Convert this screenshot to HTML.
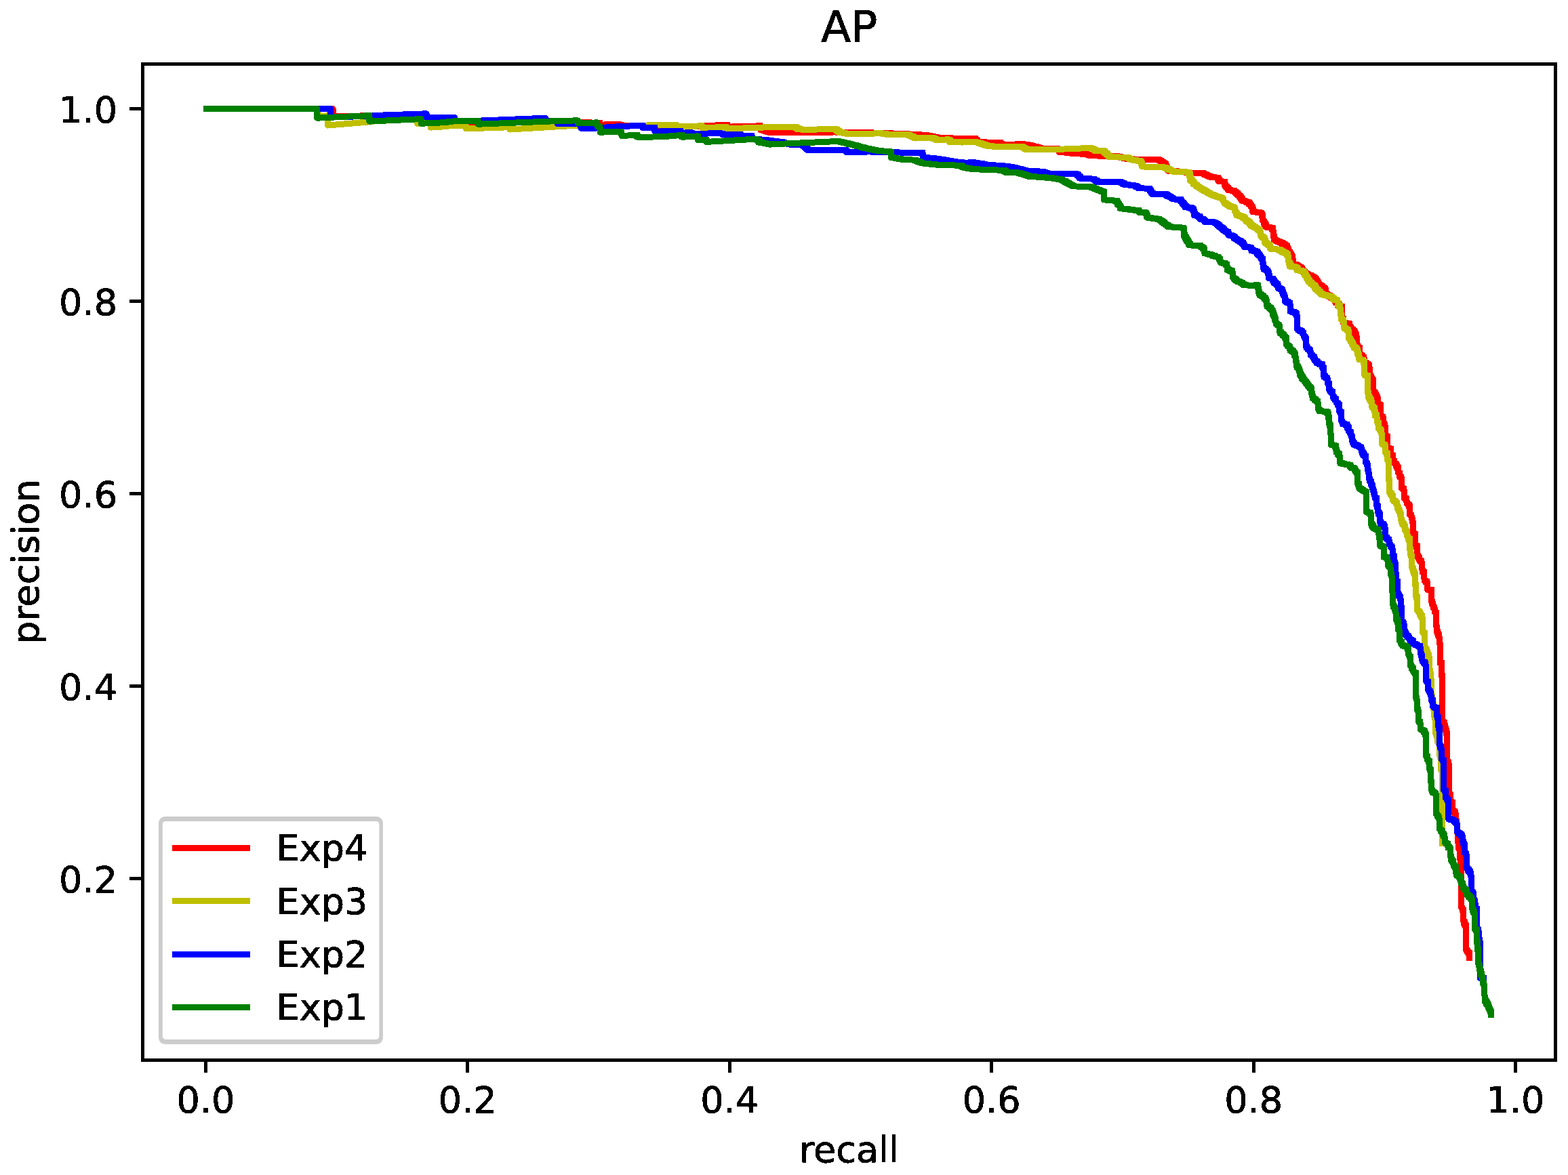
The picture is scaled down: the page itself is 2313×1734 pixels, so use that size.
<!DOCTYPE html>
<html lang="en"><head><meta charset="utf-8"><title>AP</title>
<style>html,body{margin:0;padding:0;background:#fff;}body{width:2313px;height:1734px;overflow:hidden;}svg{display:block;}text{font-family:"DejaVu Sans","Liberation Sans",sans-serif;fill:#000;}</style></head><body>
<svg xmlns="http://www.w3.org/2000/svg" width="2313" height="1734" viewBox="0 0 2313 1734">
<defs><filter id="bin" x="-5%" y="-5%" width="110%" height="110%" color-interpolation-filters="sRGB"><feComponentTransfer><feFuncA type="discrete" tableValues="0 1 1"/></feComponentTransfer></filter></defs>
<rect x="0" y="0" width="2313" height="1734" fill="#ffffff"/>
<g fill="none" stroke-width="9.0" stroke-linejoin="round" stroke-linecap="square" shape-rendering="crispEdges">
<path stroke="#ff0000" d="M304.4 160.4 L491.1 160.4 L491.1 172 L547.8 170.6 L628.1 168.2 L628.4 176 L630 176 L630 176.4 L633.1 176.4 L633.1 176.8 L636.3 176.8 L636.3 177.2 L639.4 177.2 L639.4 177.6 L642.6 177.6 L642.6 178 L645.7 178 L645.7 178.4 L648.9 178.4 L648.9 178.8 L652 178.8 L652 179.2 L655.2 179.2 L655.2 179.6 L658.3 179.6 L658.3 180 L659.9 180 L660 180.5 L661.6 180.5 L664.9 180.5 L664.9 180.6 L668.2 180.6 L671.5 180.6 L671.5 180.7 L674.8 180.7 L678.1 180.7 L678.1 180.8 L681.4 180.8 L684.7 180.8 L684.7 180.9 L688 180.9 L691.3 180.9 L691.3 181 L694.6 181 L696.2 181 L750.5 180 L822.8 178.7 L836.4 178.3 L837.9 178.3 L837.9 178.7 L841 178.7 L841 179.2 L844.1 179.2 L844.1 179.6 L847.2 179.6 L847.2 180.1 L850.3 180.1 L850.3 180.5 L851.8 180.5 L853.4 180.5 L853.4 180.6 L856.7 180.6 L859.9 180.6 L859.9 180.7 L863.2 180.7 L863.2 180.8 L866.4 180.8 L869.7 180.8 L869.7 180.9 L872.9 180.9 L872.9 181 L876.2 181 L876.2 181.1 L879.4 181.1 L882.7 181.1 L882.7 181.2 L884.3 181.2 L884.8 181.2 L884.8 184.7 L885.2 184.7 L893 183.8 L915.8 183.8 L916.3 183.8 L916.3 185.9 L916.9 185.9 L969 185.6 L983.7 185.6 L985.2 185.6 L985.2 185.8 L988.1 185.8 L988.1 186 L991 186 L991 186.1 L993.9 186.1 L993.9 186.3 L996.8 186.3 L996.8 186.5 L998.3 186.5 L1034.1 186.5 L1035.2 185.4 L1039.9 185.4 L1055.9 185.4 L1057 184.5 L1072.2 184.5 L1073 184.5 L1073 187.6 L1073.8 187.6 L1084.1 186.5 L1111.3 186.5 L1120 185.4 L1121.6 185.4 L1121.6 191.4 L1123.2 191.4 L1125 191.4 L1125 192.6 L1128.6 192.6 L1128.6 193.8 L1132.3 193.8 L1132.3 195 L1134.1 195 L1135.7 195 L1135.7 195.1 L1139 195.1 L1139 195.2 L1142.2 195.2 L1142.2 195.3 L1145.5 195.3 L1145.5 195.4 L1148.7 195.4 L1148.7 195.5 L1152 195.5 L1155.2 195.5 L1155.2 195.6 L1158.5 195.6 L1158.5 195.7 L1161.7 195.7 L1161.7 195.8 L1165 195.8 L1165 195.9 L1166.6 195.9 L1230 195 L1251.7 195.2 L1257.1 195.2 L1258.7 195.2 L1258.7 195.3 L1262 195.3 L1262 195.4 L1265.3 195.4 L1268.6 195.4 L1268.6 195.5 L1271.9 195.5 L1271.9 195.6 L1275.2 195.6 L1275.2 195.7 L1278.5 195.7 L1278.5 195.8 L1281.8 195.8 L1281.8 195.9 L1285.1 195.9 L1288.4 195.9 L1288.4 196 L1291.7 196 L1291.7 196.1 L1293.3 196.1 L1294.9 196.1 L1294.9 196.2 L1298.1 196.2 L1298.1 196.3 L1301.3 196.3 L1301.3 196.5 L1304.5 196.5 L1304.5 196.6 L1307.7 196.6 L1307.7 196.7 L1310.9 196.7 L1310.9 196.8 L1314.1 196.8 L1314.1 196.9 L1317.3 196.9 L1317.3 197 L1320.5 197 L1320.5 197.2 L1323.6 197.2 L1323.6 197.3 L1326.8 197.3 L1326.8 197.4 L1330 197.4 L1330 197.5 L1333.2 197.5 L1333.2 197.6 L1336.4 197.6 L1336.4 197.7 L1339.6 197.7 L1339.6 197.9 L1342.8 197.9 L1342.8 198 L1346 198 L1346 198.1 L1347.6 198.1 L1349.1 198.1 L1349.1 198.3 L1352.1 198.3 L1352.1 198.6 L1355.1 198.6 L1355.1 198.8 L1358.1 198.8 L1358.1 199 L1361.1 199 L1361.1 199.3 L1364.1 199.3 L1364.1 199.5 L1365.6 199.5 L1367.1 199.5 L1367.1 200.1 L1370.1 200.1 L1370.1 200.7 L1373.1 200.7 L1373.1 201.3 L1376.2 201.3 L1376.2 201.9 L1379.2 201.9 L1379.2 202.5 L1382.2 202.5 L1382.2 203.1 L1383.7 203.1 L1385.3 203.1 L1385.3 203.2 L1388.6 203.2 L1388.6 203.4 L1391.9 203.4 L1391.9 203.5 L1395.2 203.5 L1395.2 203.6 L1398.5 203.6 L1398.5 203.8 L1401.8 203.8 L1401.8 203.9 L1405.1 203.9 L1405.1 204.1 L1408.4 204.1 L1408.4 204.2 L1411.7 204.2 L1411.7 204.3 L1415 204.3 L1415 204.5 L1418.3 204.5 L1418.3 204.6 L1419.9 204.6 L1420 204.3 L1438.1 204.3 L1439.9 204.3 L1439.9 208.8 L1441.7 208.8 L1443.3 208.8 L1443.3 209.2 L1446.6 209.2 L1446.6 209.5 L1449.8 209.5 L1449.8 209.9 L1453.1 209.9 L1453.1 210.2 L1456.4 210.2 L1456.4 210.6 L1458 210.6 L1474.3 210.6 L1476.1 210.6 L1476.1 213.3 L1477.9 213.3 L1510.5 212.8 L1512 212.8 L1512 213.5 L1515 213.5 L1515 214.2 L1518 214.2 L1518 214.9 L1521 214.9 L1521 215.5 L1524 215.5 L1524 216.2 L1527 216.2 L1527 216.9 L1528.5 216.9 L1530.3 216.9 L1530.3 218.3 L1534 218.3 L1534 219.7 L1535.8 219.7 L1561.1 219.7 L1562 219.7 L1562 224.2 L1562.9 224.2 L1564.5 224.2 L1564.5 224.6 L1567.8 224.6 L1567.8 224.9 L1571.1 224.9 L1571.1 225.3 L1574.3 225.3 L1574.3 225.6 L1577.6 225.6 L1577.6 226 L1579.2 226 L1580.8 226 L1580.8 226.2 L1583.8 226.2 L1583.8 226.4 L1586.9 226.4 L1586.9 226.6 L1590 226.6 L1590 226.8 L1593.1 226.8 L1593.1 227 L1596.2 227 L1596.2 227.2 L1599.3 227.2 L1599.3 227.4 L1600.9 227.4 L1602.7 227.4 L1602.7 228.5 L1606.4 228.5 L1606.4 229.6 L1608.2 229.6 L1609.8 229.6 L1609.8 229.7 L1612.9 229.7 L1612.9 229.8 L1616.1 229.8 L1616.1 229.9 L1619.3 229.9 L1619.3 230.1 L1622.4 230.1 L1622.4 230.2 L1625.6 230.2 L1625.6 230.3 L1628.8 230.3 L1628.8 230.4 L1631.9 230.4 L1631.9 230.5 L1633.5 230.5 L1646.1 230.5 L1647.5 230.5 L1647.5 231.2 L1650.5 231.2 L1650.5 231.9 L1653.4 231.9 L1653.4 232.7 L1656.3 232.7 L1656.3 233.4 L1659.2 233.4 L1659.2 234.1 L1660.6 234.1 L1662.2 234.1 L1662.2 234.3 L1665.4 234.3 L1665.4 234.5 L1668.5 234.5 L1668.5 234.8 L1671.7 234.8 L1671.7 235 L1673.3 235 L1707.7 235 L1709.5 235 L1709.5 237.4 L1713.1 237.4 L1713.1 239.9 L1716.7 239.9 L1716.7 242.3 L1718.5 242.3 L1719.8 242.3 L1719.8 247.2 L1722.6 247.2 L1722.6 252.2 L1723.9 252.2 L1725.4 252.2 L1725.4 252.3 L1728.4 252.3 L1728.4 252.5 L1731.4 252.5 L1731.4 252.7 L1734.5 252.7 L1734.5 252.8 L1737.5 252.8 L1737.5 253 L1740.5 253 L1740.5 253.1 L1742 253.1 L1743.7 253.1 L1743.7 253.7 L1747.1 253.7 L1747.1 254.3 L1750.4 254.3 L1750.4 254.9 L1753.8 254.9 L1753.8 255.5 L1755.5 255.5 L1772.9 255.5 L1774.8 255.5 L1774.8 257.1 L1778.6 257.1 L1778.6 258.8 L1780.5 258.8 L1781.8 258.8 L1781.8 260.1 L1784.6 260.1 L1784.6 261.5 L1785.9 261.5 L1787.5 261.5 L1787.5 261.7 L1790.8 261.7 L1790.8 261.8 L1794.1 261.8 L1794.1 262 L1795.7 262 L1797.1 262 L1797.1 267.5 L1798.4 267.5 L1800.3 267.5 L1800.3 267.8 L1804.1 267.8 L1804.1 268 L1806 268 L1806.8 268 L1806.8 275.1 L1807.7 275.1 L1809 275.1 L1809 277.8 L1811.8 277.8 L1811.8 280.5 L1813.1 280.5 L1814.7 280.5 L1814.7 281.1 L1818 281.1 L1818 281.6 L1819.6 281.6 L1821.5 281.6 L1821.5 284.9 L1825.3 284.9 L1825.3 288.1 L1827.2 288.1 L1828.5 288.1 L1828.5 291.9 L1831.2 291.9 L1831.2 295.7 L1832.6 295.7 L1834 295.7 L1834 296.8 L1837 296.8 L1837 297.9 L1839.9 297.9 L1839.9 299 L1841.3 299 L1842.5 299 L1842.5 301.9 L1845 301.9 L1845 304.9 L1846.2 304.9 L1847.6 304.9 L1847.6 312.5 L1848.9 312.5 L1850.7 312.5 L1850.7 313 L1854.3 313 L1854.3 313.6 L1858 313.6 L1858 314.1 L1859.8 314.1 L1861.2 314.1 L1861.2 319.6 L1862.5 319.6 L1862.5 326.1 L1864.9 326.1 L1864.9 332.1 L1867.3 332.1 L1867.6 332.1 L1867.6 335.3 L1867.9 335.3 L1869.7 335.3 L1869.7 335.6 L1873.2 335.6 L1873.2 335.9 L1874.9 335.9 L1876.3 335.9 L1876.3 339.1 L1877.7 339.1 L1878 339.1 L1878 346.7 L1878.2 346.7 L1879.3 346.7 L1879.3 354.3 L1880.4 354.3 L1882 354.3 L1882 355.8 L1885.2 355.8 L1885.2 357.2 L1888.5 357.2 L1888.5 358.7 L1890.1 358.7 L1892 358.7 L1892 360.9 L1895.8 360.9 L1895.8 363 L1897.7 363 L1899.3 363 L1899.3 371.1 L1901 371.1 L1903.2 371.1 L1903.2 377.1 L1905.3 377.1 L1906.7 377.1 L1906.7 390.1 L1908.1 390.1 L1910 390.1 L1910 391.2 L1911.9 391.2 L1913.5 391.2 L1913.5 393.1 L1916.8 393.1 L1916.8 395 L1918.4 395 L1920 395 L1920 399.1 L1923.3 399.1 L1923.3 403.2 L1924.9 403.2 L1926.4 403.2 L1926.4 404.6 L1929.2 404.6 L1929.2 406.1 L1932.1 406.1 L1932.1 407.5 L1933.6 407.5 L1935.2 407.5 L1935.2 409.1 L1938.5 409.1 L1938.5 410.8 L1940.1 410.8 L1941.4 410.8 L1941.4 415.6 L1944.2 415.6 L1944.2 420.5 L1945.5 420.5 L1946.8 420.5 L1946.8 422.1 L1949.6 422.1 L1949.6 423.8 L1950.9 423.8 L1953.1 423.8 L1953.1 428.1 L1955.3 428.1 L1955.8 428.1 L1955.8 434.4 L1956.4 434.4 L1957.9 434.4 L1957.9 436.3 L1960.8 436.3 L1960.8 438.2 L1963.7 438.2 L1963.7 440.2 L1966.6 440.2 L1966.6 442.1 L1968 442.1 L1969.9 442.1 L1969.9 447 L1973.7 447 L1973.7 451.9 L1975.6 451.9 L1977.5 451.9 L1977.5 453.5 L1979.4 453.5 L1979.7 453.5 L1979.7 469.8 L1979.9 469.8 L1980.7 469.8 L1980.7 472 L1981.5 472 L1981.5 476.9 L1987 476.9 L1988.3 476.9 L1988.3 478.5 L1989.7 478.5 L1991.1 478.5 L1991.1 485 L1992.4 485 L1993.6 485 L1993.6 487.1 L1996.1 487.1 L1996.1 489.3 L1997.3 489.3 L1999.2 489.3 L1999.2 496.9 L2001.1 496.9 L2001.3 496.9 L2001.3 510 L2001.6 510 L2003.5 510 L2003.5 515.4 L2005.4 515.4 L2005.4 523 L2007 523 L2007 525.7 L2010.3 525.7 L2010.3 528.4 L2011.9 528.4 L2012.2 528.4 L2012.2 534.9 L2012.5 534.9 L2013.8 534.9 L2013.8 536.5 L2016.6 536.5 L2016.6 538.2 L2017.9 538.2 L2019 538.2 L2019 542.5 L2020.1 542.5 L2020.3 542.5 L2020.3 554.5 L2020.6 554.5 L2021.9 554.5 L2021.9 559.9 L2023.3 559.9 L2024.4 559.9 L2024.4 563.2 L2025.5 563.2 L2025.5 578.3 L2026.8 578.3 L2026.8 580.5 L2028.2 580.5 L2029.6 580.5 L2029.6 585.9 L2030.9 585.9 L2031.8 585.9 L2031.8 590.3 L2032.6 590.3 L2032.6 594.4 L2032.6 596.2 L2034.7 596.2 L2034.7 598.9 L2036.7 598.9 L2036.7 614.6 L2038.3 614.6 L2038.3 616.8 L2039.9 616.8 L2040.5 616.8 L2040.5 625.5 L2041 625.5 L2042.1 625.5 L2042.1 628.7 L2043.2 628.7 L2043.5 628.7 L2043.5 642.8 L2043.7 642.8 L2045.1 642.8 L2045.1 646.1 L2046.4 646.1 L2046.4 661.3 L2048.3 661.3 L2048.3 662.4 L2050.2 662.4 L2051.1 662.4 L2051.1 664.5 L2051.9 664.5 L2051.9 671.6 L2053.2 671.6 L2053.2 672.7 L2054.6 672.7 L2054.6 679.7 L2055.6 679.7 L2055.6 680.8 L2056.7 680.8 L2056.7 684.1 L2057.8 684.1 L2057.8 685.2 L2058.9 685.2 L2059.7 685.2 L2059.7 689 L2060.5 689 L2061.6 689 L2061.6 691.7 L2062.7 691.7 L2062.7 698.2 L2063.5 698.2 L2063.5 699.3 L2064.3 699.3 L2064.3 703.6 L2065.7 703.6 L2065.7 704.2 L2067 704.2 L2067.3 704.2 L2067.3 720.4 L2067.6 720.4 L2069.2 720.4 L2069.2 722.1 L2070.8 722.1 L2071.1 722.1 L2071.1 735.1 L2071.4 735.1 L2072.8 735.1 L2072.8 736.2 L2074.1 736.2 L2074.6 736.2 L2074.6 739.4 L2075.2 739.4 L2075.4 739.4 L2075.4 743.8 L2075.7 743.8 L2076.8 743.8 L2076.8 745.4 L2077.9 745.4 L2078.7 745.4 L2078.7 749.2 L2079.5 749.2 L2079.5 754.4 L2079.7 754.4 L2079.7 760 L2079.8 760 L2080.9 760 L2080.9 761 L2082 761 L2082.2 761 L2082.2 765.9 L2082.5 765.9 L2083.3 765.9 L2083.3 770.3 L2084.2 770.3 L2084.4 770.3 L2084.4 787.6 L2084.7 787.6 L2086.1 787.6 L2086.1 789.8 L2087.4 789.8 L2087.7 789.8 L2087.7 805.5 L2088 805.5 L2089.3 805.5 L2089.3 807.2 L2090.7 807.2 L2090.7 820.2 L2091.8 820.2 L2091.8 823.5 L2092.9 823.5 L2093.4 823.5 L2093.4 826.7 L2093.9 826.7 L2095.3 826.7 L2095.3 829.4 L2096.7 829.4 L2097.2 829.4 L2097.2 837.6 L2097.7 837.6 L2098 837.6 L2098 844.1 L2098.3 844.1 L2099.4 844.1 L2099.4 845.2 L2100.5 845.2 L2100.8 845.2 L2100.8 853.8 L2101 853.8 L2101.2 853.8 L2101.2 857.6 L2101.5 857.6 L2103.2 857.6 L2103.2 859.3 L2104.8 859.3 L2105.4 859.3 L2105.4 870.1 L2105.9 870.1 L2107.8 870.1 L2107.8 870.7 L2109.7 870.7 L2110.5 870.7 L2110.5 872.8 L2111.3 872.8 L2111.6 872.8 L2111.6 888.6 L2111.9 888.6 L2112.9 888.6 L2112.9 892.9 L2114 892.9 L2114.3 892.9 L2114.3 897.3 L2114.6 897.3 L2115.4 897.3 L2115.4 898.3 L2116.2 898.3 L2116.4 898.3 L2116.4 903.8 L2116.7 903.8 L2117.6 903.8 L2117.6 905.4 L2118.4 905.4 L2118.4 914.4 L2118.6 914.4 L2118.6 923.8 L2118.8 923.8 L2119.4 923.8 L2119.4 932.4 L2119.9 932.4 L2121.2 932.4 L2121.2 939 L2122.6 939 L2123.1 939 L2123.1 947.6 L2123.7 947.6 L2124 947.6 L2124 978 L2124.3 978 L2125.4 978 L2125.4 980.2 L2126.4 980.2 L2126.4 997.6 L2126.9 997.6 L2126.9 998.7 L2127.5 998.7 L2127.5 1064.9 L2129.2 1064.9 L2129.2 1067 L2130.8 1067 L2131.1 1067 L2131.1 1074.4 L2131.3 1074.4 L2131.6 1074.4 L2131.6 1075.1 L2131.8 1075.1 L2133.2 1075.1 L2133.2 1083.8 L2134.5 1083.8 L2134.5 1123.9 L2135.8 1123.9 L2135.8 1126.6 L2137.2 1126.6 L2137.2 1171.7 L2138.3 1171.7 L2138.3 1174.4 L2139.4 1174.4 L2139.4 1183.6 L2141 1183.6 L2141 1184.7 L2142.6 1184.7 L2142.6 1196.1 L2144.8 1196.1 L2144.8 1200.4 L2147 1200.4 L2147.2 1200.4 L2147.2 1211.8 L2147.5 1211.8 L2148.3 1211.8 L2148.3 1215.1 L2149.1 1215.1 L2149.1 1228.1 L2150 1228.1 L2150 1230.1 L2150.9 1230.1 L2150.9 1244.7 L2151.9 1244.7 L2151.9 1253.4 L2152.9 1253.4 L2153.2 1253.4 L2153.2 1264.3 L2153.4 1264.3 L2154.2 1264.3 L2154.2 1275.1 L2155.1 1275.1 L2155.3 1275.1 L2155.3 1296.8 L2155.6 1296.8 L2155.8 1318.5 L2155.8 1340.3 L2157.2 1340.3 L2157.2 1344.6 L2158.5 1344.6 L2158.7 1344.6 L2158.7 1359.8 L2158.9 1359.8 L2160.8 1359.8 L2160.8 1367.4 L2162.7 1367.4 L2162.7 1390 L2162.7 1391.7 L2162.6 1401.7 L2163.8 1401.7 L2163.8 1405 L2166.3 1405 L2166.3 1408.2 L2167.5 1408.2 L2167.5 1413.2"/>
<path stroke="#ff0000" stroke-width="8.4" stroke-linejoin="miter" stroke-linecap="butt" d="M628.4 176h1.57v0.2h1.57v0.2h1.57v0.2h1.57v0.2h1.57v0.2h1.57v0.2h1.57v0.2h1.57v0.2h1.57v0.2h1.57v0.2h1.57v0.2h1.57v0.2h1.57v0.2h1.57v0.2h1.57v0.2h1.57v0.2h1.57v0.2h1.57v0.2h1.57v0.2h1.57v0.2M836.4 178.3h1.54v0.22h1.54v0.22h1.54v0.22h1.54v0.22h1.54v0.22h1.54v0.22h1.54v0.22h1.54v0.22h1.54v0.22h1.54v0.22h1.62v0.03h1.62v0.03h1.62v0.03h1.62v0.03h1.62v0.03h1.62v0.03h1.62v0.03h1.62v0.03h1.62v0.03h1.62v0.03h1.62v0.03h1.62v0.03h1.62v0.03h1.62v0.03h1.62v0.03h1.62v0.03h1.62v0.03h1.62v0.03h1.62v0.03h1.62v0.03h0.45v1.75h0.45v1.75M915.8 183.8h1.1v2.1M983.7 185.6h1.62v0.1h1.62v0.1h1.62v0.1h1.62v0.1h1.62v0.1h1.62v0.1h1.62v0.1h1.62v0.1h1.62v0.1M1072.2 184.5h0.8v1.55h0.8v1.55M1120 185.4h0.8v1.5h0.8v1.5h0.8v1.5h0.8v1.5h1.56v0.51h1.56v0.51h1.56v0.51h1.56v0.51h1.56v0.51h1.56v0.51h1.56v0.51h1.62v0.05h1.62v0.05h1.62v0.05h1.62v0.05h1.62v0.05h1.62v0.05h1.62v0.05h1.62v0.05h1.62v0.05h1.62v0.05h1.62v0.05h1.62v0.05h1.62v0.05h1.62v0.05h1.62v0.05h1.62v0.05h1.62v0.05h1.62v0.05h1.62v0.05h1.62v0.05M1257.1 195.2h1.57v0.04h1.57v0.04h1.57v0.04h1.57v0.04h1.57v0.04h1.57v0.04h1.57v0.04h1.57v0.04h1.57v0.04h1.57v0.04h1.57v0.04h1.57v0.04h1.57v0.04h1.57v0.04h1.57v0.04h1.57v0.04h1.57v0.04h1.57v0.04h1.57v0.04h1.57v0.04h1.57v0.04h1.57v0.04h1.57v0.04h1.6v0.06h1.6v0.06h1.6v0.06h1.6v0.06h1.6v0.06h1.6v0.06h1.6v0.06h1.6v0.06h1.6v0.06h1.6v0.06h1.6v0.06h1.6v0.06h1.6v0.06h1.6v0.06h1.6v0.06h1.6v0.06h1.6v0.06h1.6v0.06h1.6v0.06h1.6v0.06h1.6v0.06h1.6v0.06h1.6v0.06h1.6v0.06h1.6v0.06h1.6v0.06h1.6v0.06h1.6v0.06h1.6v0.06h1.6v0.06h1.6v0.06h1.6v0.06h1.6v0.06h1.6v0.06h1.64v0.13h1.64v0.13h1.64v0.13h1.64v0.13h1.64v0.13h1.64v0.13h1.64v0.13h1.64v0.13h1.64v0.13h1.64v0.13h1.64v0.13h1.65v0.33h1.65v0.33h1.65v0.33h1.65v0.33h1.65v0.33h1.65v0.33h1.65v0.33h1.65v0.33h1.65v0.33h1.65v0.33h1.65v0.33h1.57v0.07h1.57v0.07h1.57v0.07h1.57v0.07h1.57v0.07h1.57v0.07h1.57v0.07h1.57v0.07h1.57v0.07h1.57v0.07h1.57v0.07h1.57v0.07h1.57v0.07h1.57v0.07h1.57v0.07h1.57v0.07h1.57v0.07h1.57v0.07h1.57v0.07h1.57v0.07h1.57v0.07h1.57v0.07h1.57v0.07M1438.1 204.3h1.2v1.5h1.2v1.5h1.2v1.5h1.63v0.18h1.63v0.18h1.63v0.18h1.63v0.18h1.63v0.18h1.63v0.18h1.63v0.18h1.63v0.18h1.63v0.18h1.63v0.18M1474.3 210.6h1.8v1.35h1.8v1.35M1510.5 212.8h1.64v0.37h1.64v0.37h1.64v0.37h1.64v0.37h1.64v0.37h1.64v0.37h1.64v0.37h1.64v0.37h1.64v0.37h1.64v0.37h1.64v0.37h1.46v0.56h1.46v0.56h1.46v0.56h1.46v0.56h1.46v0.56M1561.1 219.7h0.6v1.5h0.6v1.5h0.6v1.5h1.63v0.18h1.63v0.18h1.63v0.18h1.63v0.18h1.63v0.18h1.63v0.18h1.63v0.18h1.63v0.18h1.63v0.18h1.63v0.18h1.55v0.1h1.55v0.1h1.55v0.1h1.55v0.1h1.55v0.1h1.55v0.1h1.55v0.1h1.55v0.1h1.55v0.1h1.55v0.1h1.55v0.1h1.55v0.1h1.55v0.1h1.55v0.1h1.46v0.44h1.46v0.44h1.46v0.44h1.46v0.44h1.46v0.44h1.58v0.06h1.58v0.06h1.58v0.06h1.58v0.06h1.58v0.06h1.58v0.06h1.58v0.06h1.58v0.06h1.58v0.06h1.58v0.06h1.58v0.06h1.58v0.06h1.58v0.06h1.58v0.06h1.58v0.06h1.58v0.06M1646.1 230.5h1.61v0.4h1.61v0.4h1.61v0.4h1.61v0.4h1.61v0.4h1.61v0.4h1.61v0.4h1.61v0.4h1.61v0.4h1.59v0.11h1.59v0.11h1.59v0.11h1.59v0.11h1.59v0.11h1.59v0.11h1.59v0.11h1.59v0.11M1707.7 235h1.54v1.04h1.54v1.04h1.54v1.04h1.54v1.04h1.54v1.04h1.54v1.04h1.54v1.04h0.9v1.65h0.9v1.65h0.9v1.65h0.9v1.65h0.9v1.65h0.9v1.65h1.65v0.08h1.65v0.08h1.65v0.08h1.65v0.08h1.65v0.08h1.65v0.08h1.65v0.08h1.65v0.08h1.65v0.08h1.65v0.08h1.65v0.08h1.69v0.3h1.69v0.3h1.69v0.3h1.69v0.3h1.69v0.3h1.69v0.3h1.69v0.3h1.69v0.3M1772.9 255.5h1.52v0.66h1.52v0.66h1.52v0.66h1.52v0.66h1.52v0.66h1.8v0.9h1.8v0.9h1.8v0.9M1795.7 262h0.9v1.83h0.9v1.83h0.9v1.83M1806 268h0.43v1.78h0.43v1.78h0.43v1.78h0.43v1.78h1.8v1.8h1.8v1.8h1.8v1.8h1.62v0.28h1.62v0.28h1.62v0.28h1.62v0.28h1.52v1.3h1.52v1.3h1.52v1.3h1.52v1.3h1.52v1.3h1.08v1.52h1.08v1.52h1.08v1.52h1.08v1.52h1.08v1.52h1.74v0.66h1.74v0.66h1.74v0.66h1.74v0.66h1.74v0.66h1.23v1.47h1.23v1.47h1.23v1.47h1.23v1.47h0.54v1.52h0.54v1.52h0.54v1.52h0.54v1.52h0.54v1.52h1.56v0.23h1.56v0.23h1.56v0.23h1.56v0.23h1.56v0.23h1.56v0.23h1.56v0.23h0.9v1.83h0.9v1.83h0.9v1.83M1862.5 326.1h1.2v1.5h1.2v1.5h1.2v1.5h1.2v1.5h0.3v1.6h0.3v1.6M1874.9 335.9h1.4v1.6h1.4v1.6M1878.2 346.7h0.44v1.52h0.44v1.52h0.44v1.52h0.44v1.52h0.44v1.52h1.62v0.73h1.62v0.73h1.62v0.73h1.62v0.73h1.62v0.73h1.62v0.73h1.52v0.86h1.52v0.86h1.52v0.86h1.52v0.86h1.52v0.86h0.66v1.62h0.66v1.62h0.66v1.62h0.66v1.62h0.66v1.62h1.07v1.5h1.07v1.5h1.07v1.5h1.07v1.5h0.35v1.62h0.35v1.62h0.35v1.62h0.35v1.62h0.35v1.62h0.35v1.62h0.35v1.62h0.35v1.62h1.9v0.55h1.9v0.55h1.62v0.95h1.62v0.95h1.62v0.95h1.62v0.95h1.3v1.64h1.3v1.64h1.3v1.64h1.3v1.64h1.3v1.64h1.74v0.86h1.74v0.86h1.74v0.86h1.74v0.86h1.74v0.86h1.62v0.83h1.62v0.83h1.62v0.83h1.62v0.83h0.9v1.62h0.9v1.62h0.9v1.62h0.9v1.62h0.9v1.62h0.9v1.62h1.8v1.1h1.8v1.1h1.8v1.1h1.47v1.43h1.47v1.43h1.47v1.43h0.28v1.57h0.28v1.57h0.28v1.57h0.28v1.57h1.66v1.1h1.66v1.1h1.66v1.1h1.66v1.1h1.66v1.1h1.66v1.1h1.66v1.1h1.27v1.63h1.27v1.63h1.27v1.63h1.27v1.63h1.27v1.63h1.27v1.63h1.9v0.8h1.9v0.8M1979.9 469.8h1.6v2.2M1987 476.9h1.35v0.8h1.35v0.8h0.68v1.62h0.68v1.62h0.68v1.62h0.68v1.62h1.63v1.43h1.63v1.43h1.63v1.43h0.76v1.52h0.76v1.52h0.76v1.52h0.76v1.52h0.76v1.52M2001.6 510h1.27v1.8h1.27v1.8h1.27v1.8M2005.4 523h1.62v1.35h1.62v1.35h1.62v1.35h1.62v1.35M2012.5 534.9h1.8v1.1h1.8v1.1h1.8v1.1h0.73v1.43h0.73v1.43h0.73v1.43M2020.6 554.5h0.9v1.8h0.9v1.8h0.9v1.8h1.1v1.65h1.1v1.65M2025.5 578.3h1.35v1.1h1.35v1.1h0.9v1.8h0.9v1.8h0.9v1.8h0.57v1.47h0.57v1.47h0.57v1.47M2032.6 596.2h1.37v0.9h1.37v0.9h1.37v0.9M2036.7 614.6h1.6v1.1h1.6v1.1h0.22v1.74h0.22v1.74h0.22v1.74h0.22v1.74h0.22v1.74h1.1v1.6h1.1v1.6M2043.7 642.8h1.35v1.65h1.35v1.65M2046.4 661.3h1.9v0.55h1.9v0.55h1.7v2.1M2051.9 671.6h1.35v0.55h1.35v0.55M2054.6 679.7h2.1v1.1M2056.7 684.1h2.2v1.1h0.8v1.9h0.8v1.9h1.1v1.35h1.1v1.35M2062.7 698.2h1.6v1.1M2064.3 703.6h1.35v0.3h1.35v0.3M2067.6 720.4h1.6v0.85h1.6v0.85M2071.4 735.1h1.35v0.55h1.35v0.55h0.55v1.6h0.55v1.6M2075.7 743.8h2.2v1.6h0.8v1.9h0.8v1.9M2079.8 760h2.2v1M2082.5 765.9h0.57v1.47h0.57v1.47h0.57v1.47M2084.7 787.6h1.35v1.1h1.35v1.1M2088 805.5h1.35v0.85h1.35v0.85M2090.7 820.2h1.1v1.65h1.1v1.65h0.5v1.6h0.5v1.6h1.4v1.35h1.4v1.35h0.2v1.64h0.2v1.64h0.2v1.64h0.2v1.64h0.2v1.64h0.15v1.62h0.15v1.62h0.15v1.62h0.15v1.62h2.2v1.1M2101.5 857.6h1.65v0.85h1.65v0.85h0.16v1.54h0.16v1.54h0.16v1.54h0.16v1.54h0.16v1.54h0.16v1.54h0.16v1.54h1.9v0.3h1.9v0.3h1.6v2.1M2111.9 888.6h0.7v1.43h0.7v1.43h0.7v1.43M2114.6 897.3h1.6v1M2116.7 903.8h1.7v1.6M2118.8 923.8h0.22v1.72h0.22v1.72h0.22v1.72h0.22v1.72h0.22v1.72h0.67v1.65h0.67v1.65h0.67v1.65h0.67v1.65h0.22v1.72h0.22v1.72h0.22v1.72h0.22v1.72h0.22v1.72h0.03v1.6h0.03v1.6h0.03v1.6h0.03v1.6h0.03v1.6h0.03v1.6h0.03v1.6h0.03v1.6h0.03v1.6h0.03v1.6h0.03v1.6h0.03v1.6h0.03v1.6h0.03v1.6h0.03v1.6h0.03v1.6h0.03v1.6h0.03v1.6h0.03v1.6h2.1v2.2M2126.4 997.6h1.1v1.1M2127.5 1064.9h1.65v1.05h1.65v1.05M2131.8 1075.1h0.54v1.74h0.54v1.74h0.54v1.74h0.54v1.74h0.54v1.74M2134.5 1123.9h1.35v1.35h1.35v1.35M2137.2 1171.7h1.1v1.35h1.1v1.35M2139.4 1183.6h1.6v0.55h1.6v0.55M2142.6 1196.1h1.47v1.43h1.47v1.43h1.47v1.43M2147.5 1211.8h0.8v1.65h0.8v1.65M2149.1 1228.1h1.8v2M2150.9 1244.7h0.4v1.74h0.4v1.74h0.4v1.74h0.4v1.74h0.4v1.74M2153.4 1264.3h0.24v1.54h0.24v1.54h0.24v1.54h0.24v1.54h0.24v1.54h0.24v1.54h0.24v1.54M2155.8 1340.3h0.9v1.43h0.9v1.43h0.9v1.43M2158.9 1359.8h0.76v1.52h0.76v1.52h0.76v1.52h0.76v1.52h0.76v1.52M2162.6 1401.7h1.23v1.62h1.23v1.62h1.23v1.62h1.23v1.62"/>
<path stroke="#bfbf00" d="M304.4 160.4 L469.4 160.4 L469.4 171.5 L483.5 170.9 L483.5 185 L542.3 180.1 L555 178.7 L614.7 176 L615.6 176 L615.6 182.3 L616.5 182.3 L634.6 181.4 L635 181.4 L635 188.1 L635.5 188.1 L659.9 186.5 L660 185.9 L686.8 185.9 L687.1 185.9 L687.1 189.9 L687.5 189.9 L751.9 187.7 L752.2 187.7 L752.2 191 L752.6 191 L822.8 186.8 L851.8 185 L853.6 185 L853.6 185.2 L857.2 185.2 L857.2 185.4 L859 185.4 L860.7 185.4 L860.7 185.8 L864.1 185.8 L864.1 186.2 L867.5 186.2 L867.5 186.6 L870.9 186.6 L870.9 187 L874.2 187 L874.2 187.4 L877.6 187.4 L877.6 187.8 L881 187.8 L881 188.2 L884.4 188.2 L884.4 188.6 L886.1 188.6 L913.6 186.5 L948.4 185.4 L961.4 184.5 L996.1 184.3 L996.7 184.3 L996.7 186.5 L997.2 186.5 L1025.4 186.3 L1034.1 185.6 L1035.2 185.6 L1035.2 188.6 L1036.3 188.6 L1039.9 188.5 L1053.7 188.1 L1070 187.2 L1071.1 187.2 L1071.1 190.3 L1072.2 190.3 L1080.9 189.6 L1120 188.1 L1172.1 187.2 L1173.4 187.2 L1173.4 188.8 L1176.2 188.8 L1176.2 190.5 L1177.5 190.5 L1179 190.5 L1179 190.8 L1182 190.8 L1182 191.2 L1185 191.2 L1185 191.5 L1186.5 191.5 L1231.8 190.3 L1233.6 190.3 L1233.6 192.8 L1237.2 192.8 L1237.2 195.3 L1239 195.3 L1240.6 195.3 L1240.6 195.9 L1243.8 195.9 L1243.8 196.5 L1246.9 196.5 L1246.9 197.1 L1250.1 197.1 L1250.1 197.7 L1251.7 197.7 L1300.5 196.8 L1302.3 196.8 L1302.3 197.5 L1306 197.5 L1306 198.2 L1307.8 198.2 L1336.7 198.1 L1338.2 198.1 L1338.2 199.3 L1341.1 199.3 L1341.1 200.5 L1344 200.5 L1344 201.6 L1346.9 201.6 L1346.9 202.8 L1349.8 202.8 L1349.8 204 L1351.2 204 L1374.7 203.1 L1376.5 203.1 L1376.5 204.9 L1380.1 204.9 L1380.1 206.7 L1381.9 206.7 L1398.2 205.8 L1400 205.8 L1400 209.5 L1401.8 209.5 L1403.3 209.5 L1403.3 209.6 L1406.3 209.6 L1406.3 209.7 L1409.3 209.7 L1409.3 209.8 L1412.4 209.8 L1415.4 209.8 L1415.4 209.9 L1418.4 209.9 L1418.4 210 L1419.9 210 L1420 209.7 L1439.9 209.7 L1441.5 209.7 L1441.5 210.8 L1444.8 210.8 L1444.8 211.9 L1448.1 211.9 L1448.1 212.9 L1451.3 212.9 L1451.3 214 L1454.6 214 L1454.6 215.1 L1456.2 215.1 L1457.7 215.1 L1457.7 215.5 L1460.6 215.5 L1460.6 215.8 L1463.5 215.8 L1463.5 216.2 L1466.4 216.2 L1466.4 216.5 L1469.3 216.5 L1469.3 216.9 L1470.7 216.9 L1506.8 216 L1508.6 216 L1508.6 218.3 L1512.3 218.3 L1512.3 220.6 L1514.1 220.6 L1555.7 220.6 L1600.9 218.7 L1610 218.7 L1611.3 218.7 L1611.3 220.6 L1614.1 220.6 L1614.1 222.4 L1615.4 222.4 L1626.2 222.4 L1628 222.4 L1628 225.4 L1631.6 225.4 L1631.6 228.4 L1635.3 228.4 L1635.3 231.4 L1637.1 231.4 L1638.7 231.4 L1638.7 231.5 L1641.8 231.5 L1641.8 231.6 L1645 231.6 L1645 231.7 L1648.2 231.7 L1648.2 231.9 L1651.3 231.9 L1651.3 232 L1654.5 232 L1654.5 232.1 L1657.7 232.1 L1657.7 232.2 L1660.8 232.2 L1660.8 232.3 L1662.4 232.3 L1664.2 232.3 L1664.2 234.1 L1667.9 234.1 L1667.9 235.9 L1669.7 235.9 L1671.3 235.9 L1671.3 236.3 L1674.4 236.3 L1674.4 236.8 L1677.6 236.8 L1677.6 237.2 L1680.7 237.2 L1680.7 237.7 L1682.3 237.7 L1684.1 237.7 L1684.1 245.9 L1685.9 245.9 L1687.4 245.9 L1687.4 246 L1690.5 246 L1690.5 246.1 L1693.6 246.1 L1693.6 246.2 L1696.7 246.2 L1696.7 246.3 L1699.8 246.3 L1699.8 246.4 L1702.8 246.4 L1705.9 246.4 L1705.9 246.5 L1709 246.5 L1709 246.6 L1712.1 246.6 L1712.1 246.7 L1715.2 246.7 L1715.2 246.8 L1716.7 246.8 L1718.2 246.8 L1718.2 248.1 L1721.1 248.1 L1721.1 249.3 L1724 249.3 L1724 250.6 L1726.9 250.6 L1726.9 251.8 L1729.8 251.8 L1729.8 253.1 L1731.2 253.1 L1732.8 253.1 L1732.8 253.2 L1735.8 253.2 L1735.8 253.4 L1738.9 253.4 L1738.9 253.5 L1742 253.5 L1742 253.6 L1745.1 253.6 L1745.1 253.7 L1748.2 253.7 L1748.2 253.9 L1751.3 253.9 L1751.3 254 L1752.9 254 L1755.3 254 L1755.3 266.4 L1757.7 266.4 L1759.9 266.4 L1759.9 271.8 L1762.1 271.8 L1763.4 271.8 L1763.4 274 L1766.2 274 L1766.2 276.2 L1767.5 276.2 L1769.4 276.2 L1769.4 278.4 L1773.2 278.4 L1773.2 280.5 L1775.1 280.5 L1777 280.5 L1777 282.6 L1780.8 282.6 L1780.8 284.8 L1782.7 284.8 L1784 284.8 L1784 286.2 L1786.8 286.2 L1786.8 287.6 L1788.1 287.6 L1789.4 287.6 L1789.4 288.6 L1792.2 288.6 L1792.2 289.7 L1793.5 289.7 L1795.4 289.7 L1795.4 290.8 L1799.2 290.8 L1799.2 291.9 L1801.1 291.9 L1803 291.9 L1803 295.7 L1804.9 295.7 L1805.2 295.7 L1805.2 299 L1805.5 299 L1807.4 299 L1807.4 301.4 L1811.2 301.4 L1811.2 303.8 L1813.1 303.8 L1815 303.8 L1815 305.2 L1818.8 305.2 L1818.8 306.6 L1820.7 306.6 L1821.5 306.6 L1821.5 312 L1822.3 312 L1823.7 312 L1823.7 317.4 L1825 317.4 L1826.6 317.4 L1826.6 318.5 L1829.9 318.5 L1829.9 319.6 L1831.5 319.6 L1833.7 319.6 L1833.7 322.3 L1835.9 322.3 L1837 322.3 L1837 325.5 L1838 325.5 L1840.2 325.5 L1840.2 328.3 L1842.4 328.3 L1844 328.3 L1844 332.6 L1845.6 332.6 L1847.5 332.6 L1847.5 334.8 L1851.3 334.8 L1851.3 336.9 L1853.2 336.9 L1854.6 336.9 L1854.6 339.1 L1857.3 339.1 L1857.3 341.3 L1858.7 341.3 L1859.2 341.3 L1859.2 347.8 L1859.8 347.8 L1861.9 347.8 L1861.9 351.1 L1864.1 351.1 L1865.7 351.1 L1865.7 358.7 L1867.3 358.7 L1868.7 358.7 L1868.7 360.9 L1871.4 360.9 L1871.4 363 L1872.8 363 L1873.8 363 L1873.8 367.3 L1874.9 367.3 L1876.4 367.3 L1876.4 367.6 L1879.4 367.6 L1879.4 367.8 L1882.4 367.8 L1882.4 368.1 L1885.4 368.1 L1885.4 368.4 L1886.9 368.4 L1889.1 368.4 L1889.1 371.7 L1891.2 371.7 L1892.6 371.7 L1892.6 372.8 L1895.3 372.8 L1895.3 373.8 L1896.7 373.8 L1898.3 373.8 L1898.3 377.1 L1899.9 377.1 L1900.2 377.1 L1900.2 385.8 L1900.5 385.8 L1902.4 385.8 L1902.4 393.4 L1904.3 393.4 L1905.9 393.4 L1905.9 393.6 L1909.2 393.6 L1909.2 393.9 L1910.8 393.9 L1912.9 393.9 L1912.9 398.8 L1915.1 398.8 L1917 398.8 L1917 399.9 L1920.8 399.9 L1920.8 401 L1922.7 401 L1924.3 401 L1924.3 406.4 L1926 406.4 L1927.3 406.4 L1927.3 411.3 L1930.1 411.3 L1930.1 416.2 L1931.4 416.2 L1933 416.2 L1933 418.9 L1936.3 418.9 L1936.3 421.6 L1937.9 421.6 L1940.1 421.6 L1940.1 427 L1942.2 427 L1944.1 427 L1944.1 430.7 L1947.9 430.7 L1947.9 434.4 L1949.8 434.4 L1951.7 434.4 L1951.7 435.3 L1955.3 435.3 L1955.3 436.3 L1959.1 436.3 L1959.1 437.2 L1960.9 437.2 L1962.2 437.2 L1962.2 437.8 L1963.6 437.8 L1965.5 437.8 L1965.5 442.1 L1967.4 442.1 L1968.8 442.1 L1968.8 443 L1971.5 443 L1971.5 443.8 L1972.9 443.8 L1973.2 443.8 L1973.2 450.3 L1973.4 450.3 L1975.1 450.3 L1975.1 453 L1976.7 453 L1977 453 L1977 461.1 L1977.2 461.1 L1978 461.1 L1978 470.9 L1978.8 470.9 L1980.2 470.9 L1980.2 473.1 L1981.5 473.1 L1982.3 473.1 L1982.3 483.9 L1983.2 483.9 L1984.7 483.9 L1984.7 486.1 L1987.6 486.1 L1987.6 488.3 L1989.1 488.3 L1989.4 488.3 L1989.4 499.1 L1989.7 499.1 L1990.8 499.1 L1990.8 502.4 L1991.9 502.4 L1994.1 502.4 L1994.1 508.9 L1996.2 508.9 L1996.8 508.9 L1996.8 512.7 L1997.3 512.7 L1998.9 512.7 L1998.9 514.3 L2000.5 514.3 L2002.2 514.3 L2002.2 523 L2003.8 523 L2004.6 523 L2004.6 530.6 L2005.4 530.6 L2007.6 530.6 L2007.6 531.1 L2009.8 531.1 L2011.2 531.1 L2011.2 536 L2012.5 536 L2012.5 553.4 L2013.7 553.4 L2013.7 554.2 L2016.2 554.2 L2016.2 555 L2017.4 555 L2017.7 555 L2017.7 580.5 L2017.9 580.5 L2018.7 580.5 L2018.7 587 L2019.5 587 L2021.2 587 L2021.2 592.5 L2022.8 592.5 L2023 592.5 L2023 594.4 L2023.3 594.4 L2023.8 594.4 L2023.8 600.5 L2024.2 600.5 L2025.8 600.5 L2025.8 603.8 L2027.4 603.8 L2028 603.8 L2028 612.4 L2028.5 612.4 L2029.6 612.4 L2029.6 614.6 L2030.7 614.6 L2031 614.6 L2031 622.2 L2031.2 622.2 L2032.3 622.2 L2032.3 625.5 L2033.4 625.5 L2033.7 625.5 L2033.7 633.1 L2033.9 633.1 L2035.3 633.1 L2035.3 635.2 L2036.7 635.2 L2037.5 635.2 L2037.5 639.6 L2038.3 639.6 L2038.5 639.6 L2038.5 655.3 L2038.8 655.3 L2041 655.3 L2041 656.9 L2043.2 656.9 L2043.5 656.9 L2043.5 667.8 L2043.7 667.8 L2045.1 667.8 L2045.1 671.1 L2046.4 671.1 L2046.7 671.1 L2046.7 679.7 L2047 679.7 L2047.8 679.7 L2047.8 680.8 L2048.6 680.8 L2048.6 709 L2049.1 709 L2049.1 709.6 L2049.7 709.6 L2049.7 727.5 L2051.1 727.5 L2051.1 729.7 L2052.4 729.7 L2053.5 729.7 L2053.5 734 L2054.6 734 L2054.6 738.3 L2056.2 738.3 L2056.2 740 L2057.8 740 L2059.2 740 L2059.2 743.8 L2060.5 743.8 L2061.1 743.8 L2061.1 749.2 L2061.6 749.2 L2062.4 749.2 L2062.4 752.5 L2063.2 752.5 L2063.5 752.5 L2063.5 754.4 L2063.8 754.4 L2064.2 754.4 L2064.2 755.1 L2064.6 755.1 L2065.4 755.1 L2065.4 760.5 L2066.3 760.5 L2066.6 760.5 L2066.6 767 L2066.8 767 L2068.2 767 L2068.2 773.5 L2069.5 773.5 L2070.8 773.5 L2070.8 776.8 L2072.2 776.8 L2072.5 776.8 L2072.5 782.2 L2072.8 782.2 L2074.2 782.2 L2074.2 785.5 L2075.5 785.5 L2075.8 785.5 L2075.8 792 L2076 792 L2077.7 792 L2077.7 797.4 L2079.3 797.4 L2079.9 797.4 L2079.9 812.6 L2080.4 812.6 L2080.9 812.6 L2080.9 820.2 L2081.5 820.2 L2082 820.2 L2082 822.9 L2082.5 822.9 L2082.3 836.5 L2083.2 836.5 L2083.2 839.7 L2084.2 839.7 L2084.8 839.7 L2084.8 845.2 L2085.3 845.2 L2086.4 845.2 L2086.4 848.4 L2087.4 848.4 L2087.4 863.6 L2087.9 863.6 L2087.9 864.7 L2088.5 864.7 L2088.5 879.9 L2089.6 879.9 L2089.6 883.2 L2090.7 883.2 L2090.7 901.1 L2092.1 901.1 L2092.1 902.7 L2093.4 902.7 L2094.5 902.7 L2094.5 908.1 L2095.6 908.1 L2096.9 908.1 L2096.9 912.5 L2098.3 912.5 L2098.6 912.5 L2098.6 914.4 L2098.8 914.4 L2098.8 933.5 L2100.2 933.5 L2100.2 934.6 L2101.5 934.6 L2101.5 956.3 L2102.8 956.3 L2102.8 959.6 L2104.2 959.6 L2104.8 959.6 L2104.8 963.9 L2105.3 963.9 L2106.7 963.9 L2106.7 969.3 L2108 969.3 L2108.2 969.3 L2108.2 990 L2108.5 990 L2109.3 990 L2109.3 993.2 L2110.1 993.2 L2110.4 993.2 L2110.4 1005.2 L2110.7 1005.2 L2111.2 1005.2 L2111.2 1006.2 L2111.8 1006.2 L2111.8 1024.7 L2112.6 1024.7 L2112.6 1035.6 L2113.4 1035.6 L2114.2 1035.6 L2114.2 1046.4 L2115 1046.4 L2115.6 1046.4 L2115.6 1057.3 L2116.1 1057.3 L2116.5 1057.3 L2116.5 1060.9 L2116.9 1060.9 L2117.7 1060.9 L2117.7 1082.6 L2118.5 1082.6 L2120.6 1082.6 L2120.6 1095.6 L2122.7 1095.6 L2123.6 1095.6 L2123.6 1115.1 L2124.5 1115.1 L2125.8 1115.1 L2125.8 1136.8 L2127.2 1136.8 L2127.3 1136.8 L2127.3 1164 L2127.5 1164 L2127.5 1230 L2127.5 1231.7 L2127.5 1244.1"/>
<path stroke="#bfbf00" stroke-width="8.4" stroke-linejoin="miter" stroke-linecap="butt" d="M614.7 176h0.45v1.58h0.45v1.58h0.45v1.58h0.45v1.58M634.6 181.4h0.22v1.67h0.22v1.67h0.22v1.67h0.22v1.67M686.8 185.9h0.35v2h0.35v2M751.9 187.7h0.35v1.65h0.35v1.65M859 185.4h1.59v0.19h1.59v0.19h1.59v0.19h1.59v0.19h1.59v0.19h1.59v0.19h1.59v0.19h1.59v0.19h1.59v0.19h1.59v0.19h1.59v0.19h1.59v0.19h1.59v0.19h1.59v0.19h1.59v0.19h1.59v0.19h1.59v0.19M996.1 184.3h1.1v2.2M1034.1 185.6h1.1v1.5h1.1v1.5M1070 187.2h1.1v1.55h1.1v1.55M1172.1 187.2h1.8v1.1h1.8v1.1h1.8v1.1h1.5v0.17h1.5v0.17h1.5v0.17h1.5v0.17h1.5v0.17h1.5v0.17M1231.8 190.3h1.44v1h1.44v1h1.44v1h1.44v1h1.44v1h1.59v0.3h1.59v0.3h1.59v0.3h1.59v0.3h1.59v0.3h1.59v0.3h1.59v0.3h1.59v0.3M1300.5 196.8h1.46v0.28h1.46v0.28h1.46v0.28h1.46v0.28h1.46v0.28M1336.7 198.1h1.61v0.66h1.61v0.66h1.61v0.66h1.61v0.66h1.61v0.66h1.61v0.66h1.61v0.66h1.61v0.66h1.61v0.66M1374.7 203.1h1.44v0.72h1.44v0.72h1.44v0.72h1.44v0.72h1.44v0.72M1398.2 205.8h1.8v1.85h1.8v1.85M1439.9 209.7h1.63v0.54h1.63v0.54h1.63v0.54h1.63v0.54h1.63v0.54h1.63v0.54h1.63v0.54h1.63v0.54h1.63v0.54h1.63v0.54h1.61v0.2h1.61v0.2h1.61v0.2h1.61v0.2h1.61v0.2h1.61v0.2h1.61v0.2h1.61v0.2h1.61v0.2M1506.8 216h1.46v0.92h1.46v0.92h1.46v0.92h1.46v0.92h1.46v0.92M1610 218.7h1.8v1.23h1.8v1.23h1.8v1.23M1626.2 222.4h1.56v1.29h1.56v1.29h1.56v1.29h1.56v1.29h1.56v1.29h1.56v1.29h1.56v1.29h1.58v0.06h1.58v0.06h1.58v0.06h1.58v0.06h1.58v0.06h1.58v0.06h1.58v0.06h1.58v0.06h1.58v0.06h1.58v0.06h1.58v0.06h1.58v0.06h1.58v0.06h1.58v0.06h1.58v0.06h1.58v0.06h1.46v0.72h1.46v0.72h1.46v0.72h1.46v0.72h1.46v0.72h1.57v0.22h1.57v0.22h1.57v0.22h1.57v0.22h1.57v0.22h1.57v0.22h1.57v0.22h1.57v0.22h0.72v1.64h0.72v1.64h0.72v1.64h0.72v1.64h0.72v1.64h1.62v0.05h1.62v0.05h1.62v0.05h1.62v0.05h1.62v0.05h1.62v0.05h1.62v0.05h1.62v0.05h1.62v0.05h1.62v0.05h1.62v0.05h1.62v0.05h1.62v0.05h1.62v0.05h1.62v0.05h1.62v0.05h1.62v0.05h1.62v0.05h1.62v0.05h1.61v0.7h1.61v0.7h1.61v0.7h1.61v0.7h1.61v0.7h1.61v0.7h1.61v0.7h1.61v0.7h1.61v0.7h1.55v0.06h1.55v0.06h1.55v0.06h1.55v0.06h1.55v0.06h1.55v0.06h1.55v0.06h1.55v0.06h1.55v0.06h1.55v0.06h1.55v0.06h1.55v0.06h1.55v0.06h1.55v0.06h0.6v1.55h0.6v1.55h0.6v1.55h0.6v1.55h0.6v1.55h0.6v1.55h0.6v1.55h0.6v1.55h1.47v1.8h1.47v1.8h1.47v1.8h1.8v1.47h1.8v1.47h1.8v1.47h1.52v0.86h1.52v0.86h1.52v0.86h1.52v0.86h1.52v0.86h1.52v0.86h1.52v0.86h1.52v0.86h1.52v0.86h1.52v0.86h1.8v0.93h1.8v0.93h1.8v0.93h1.8v0.7h1.8v0.7h1.8v0.7h1.52v0.44h1.52v0.44h1.52v0.44h1.52v0.44h1.52v0.44h1.9v1.9h1.9v1.9M1805.5 299h1.52v0.96h1.52v0.96h1.52v0.96h1.52v0.96h1.52v0.96h1.52v0.56h1.52v0.56h1.52v0.56h1.52v0.56h1.52v0.56h0.53v1.8h0.53v1.8h0.53v1.8h0.9v1.8h0.9v1.8h0.9v1.8h1.62v0.55h1.62v0.55h1.62v0.55h1.62v0.55h1.47v0.9h1.47v0.9h1.47v0.9h1.05v1.6h1.05v1.6h1.47v0.93h1.47v0.93h1.47v0.93h1.07v1.43h1.07v1.43h1.07v1.43h1.52v0.86h1.52v0.86h1.52v0.86h1.52v0.86h1.52v0.86h1.83v1.47h1.83v1.47h1.83v1.47h0.27v1.62h0.27v1.62h0.27v1.62h0.27v1.62h1.43v1.1h1.43v1.1h1.43v1.1h0.64v1.52h0.64v1.52h0.64v1.52h0.64v1.52h0.64v1.52h1.83v1.43h1.83v1.43h1.83v1.43h0.7v1.43h0.7v1.43h0.7v1.43h1.5v0.14h1.5v0.14h1.5v0.14h1.5v0.14h1.5v0.14h1.5v0.14h1.5v0.14h1.5v0.14h1.43v1.1h1.43v1.1h1.43v1.1h1.83v0.7h1.83v0.7h1.83v0.7h1.6v1.65h1.6v1.65M1900.5 385.8h0.76v1.52h0.76v1.52h0.76v1.52h0.76v1.52h0.76v1.52M1910.8 393.9h1.43v1.63h1.43v1.63h1.43v1.63h1.52v0.44h1.52v0.44h1.52v0.44h1.52v0.44h1.52v0.44h1.1v1.8h1.1v1.8h1.1v1.8h0.9v1.63h0.9v1.63h0.9v1.63h0.9v1.63h0.9v1.63h0.9v1.63h1.62v1.35h1.62v1.35h1.62v1.35h1.62v1.35h1.43v1.8h1.43v1.8h1.43v1.8h1.52v1.48h1.52v1.48h1.52v1.48h1.52v1.48h1.52v1.48h1.59v0.4h1.59v0.4h1.59v0.4h1.59v0.4h1.59v0.4h1.59v0.4h1.59v0.4h1.35v0.3h1.35v0.3h1.27v1.43h1.27v1.43h1.27v1.43h1.83v0.57h1.83v0.57h1.83v0.57M1973.4 450.3h1.65v1.35h1.65v1.35M1977.2 461.1h0.27v1.63h0.27v1.63h0.27v1.63h0.27v1.63h0.27v1.63h0.27v1.63h1.35v1.1h1.35v1.1h0.24v1.54h0.24v1.54h0.24v1.54h0.24v1.54h0.24v1.54h0.24v1.54h0.24v1.54h1.47v1.1h1.47v1.1h1.47v1.1h1.47v1.1h0.09v1.54h0.09v1.54h0.09v1.54h0.09v1.54h0.09v1.54h0.09v1.54h0.09v1.54h1.1v1.65h1.1v1.65h1.07v1.62h1.07v1.62h1.07v1.62h1.07v1.62h0.55v1.9h0.55v1.9h1.6v0.8h1.6v0.8h0.66v1.74h0.66v1.74h0.66v1.74h0.66v1.74h0.66v1.74h0.32v1.52h0.32v1.52h0.32v1.52h0.32v1.52h0.32v1.52M2009.8 531.1h0.9v1.63h0.9v1.63h0.9v1.63M2012.5 553.4h1.63v0.53h1.63v0.53h1.63v0.53M2017.9 580.5h0.4v1.62h0.4v1.62h0.4v1.62h0.4v1.62h1.1v1.83h1.1v1.83h1.1v1.83M2023.3 594.4h0.23v1.53h0.23v1.53h0.23v1.53h0.23v1.53h1.6v1.65h1.6v1.65h0.22v1.72h0.22v1.72h0.22v1.72h0.22v1.72h0.22v1.72h2.2v2.2M2031.2 622.2h1.1v1.65h1.1v1.65M2033.9 633.1h1.4v1.05h1.4v1.05h0.53v1.47h0.53v1.47h0.53v1.47M2038.8 655.3h1.47v0.53h1.47v0.53h1.47v0.53M2043.7 667.8h1.35v1.65h1.35v1.65M2047 679.7h1.6v1.1M2048.6 709h1.1v0.6M2049.7 727.5h1.35v1.1h1.35v1.1h0.73v1.43h0.73v1.43h0.73v1.43M2054.6 738.3h1.6v0.85h1.6v0.85h1.35v1.9h1.35v1.9h0.37v1.8h0.37v1.8h0.37v1.8h0.8v1.65h0.8v1.65h0.6v1.9h0.8v0.7h0.57v1.8h0.57v1.8h0.57v1.8M2066.8 767h0.67v1.62h0.67v1.62h0.67v1.62h0.67v1.62h1.35v1.65h1.35v1.65h0.2v1.8h0.2v1.8h0.2v1.8h1.35v1.65h1.35v1.65M2076 792h1.1v1.8h1.1v1.8h1.1v1.8h0.11v1.52h0.11v1.52h0.11v1.52h0.11v1.52h0.11v1.52h0.11v1.52h0.11v1.52h0.11v1.52h0.11v1.52h0.11v1.52h0.22v1.52h0.22v1.52h0.22v1.52h0.22v1.52h0.22v1.52h0.5v1.35h0.5v1.35M2082.3 836.5h0.95v1.6h0.95v1.6h0.37v1.83h0.37v1.83h0.37v1.83h1.05v1.6h1.05v1.6M2087.4 863.6h1.1v1.1M2088.5 879.9h1.1v1.65h1.1v1.65M2090.7 901.1h1.35v0.8h1.35v0.8h0.73v1.8h0.73v1.8h0.73v1.8h0.9v1.47h0.9v1.47h0.9v1.47M2098.8 933.5h1.35v0.55h1.35v0.55M2101.5 956.3h1.35v1.65h1.35v1.65h0.37v1.43h0.37v1.43h0.37v1.43h0.9v1.8h0.9v1.8h0.9v1.8M2108.5 990h0.8v1.6h0.8v1.6M2110.7 1005.2h1.1v1M2111.8 1024.7h0.23v1.56h0.23v1.56h0.23v1.56h0.23v1.56h0.23v1.56h0.23v1.56h0.23v1.56h0.23v1.54h0.23v1.54h0.23v1.54h0.23v1.54h0.23v1.54h0.23v1.54h0.23v1.54h0.16v1.56h0.16v1.56h0.16v1.56h0.16v1.56h0.16v1.56h0.16v1.56h0.16v1.56h0.4v1.8h0.4v1.8h0.11v1.55h0.11v1.55h0.11v1.55h0.11v1.55h0.11v1.55h0.11v1.55h0.11v1.55h0.11v1.55h0.11v1.55h0.11v1.55h0.11v1.55h0.11v1.55h0.11v1.55h0.11v1.55h0.52v1.62h0.52v1.62h0.52v1.62h0.52v1.62h0.52v1.62h0.52v1.62h0.52v1.62h0.52v1.62h0.15v1.62h0.15v1.62h0.15v1.62h0.15v1.62h0.15v1.62h0.15v1.62h0.15v1.62h0.15v1.62h0.15v1.62h0.15v1.62h0.15v1.62h0.15v1.62h0.19v1.55h0.19v1.55h0.19v1.55h0.19v1.55h0.19v1.55h0.19v1.55h0.19v1.55h0.19v1.55h0.19v1.55h0.19v1.55h0.19v1.55h0.19v1.55h0.19v1.55h0.19v1.55"/>
<path stroke="#0000ff" d="M304.4 160.4 L487.5 160.4 L487.5 173.1 L511.6 172.5 L547.8 170.6 L629.2 167.8 L629.2 173.6 L659.9 173.6 L660 173.6 L670.9 173.6 L670.9 178.7 L705.2 178.2 L804.7 174.2 L804.9 178.5 L821.6 178.5 L821.9 182.3 L846.3 182.3 L848 182.3 L848 182.6 L851.3 182.6 L851.3 182.9 L854.6 182.9 L854.6 183.2 L856.3 183.2 L856.8 183.2 L856.8 189.2 L857.2 189.2 L877.1 189.2 L886.1 188.6 L913.6 186.5 L947.3 185.4 L947.8 185.4 L947.8 188.6 L948.4 188.6 L964.7 188.6 L965.8 188.6 L965.8 194.1 L966.8 194.1 L1003.7 193.5 L1004.2 193.5 L1004.2 196.2 L1004.8 196.2 L1020 195.7 L1020.5 195.7 L1020.5 197.9 L1021.1 197.9 L1039.9 197.2 L1049.4 196.8 L1064.6 196.8 L1065.4 196.8 L1065.4 199 L1066.2 199 L1093.9 198.4 L1094.1 198.4 L1094.1 200 L1094.3 200 L1096 200 L1096 200.2 L1099.4 200.2 L1099.4 200.3 L1102.9 200.3 L1102.9 200.5 L1106.3 200.5 L1106.3 200.6 L1108 200.6 L1108.8 200.6 L1108.8 204.9 L1109.7 204.9 L1111.4 204.9 L1111.4 205.2 L1114.9 205.2 L1114.9 205.5 L1118.4 205.5 L1118.4 205.8 L1121.8 205.8 L1121.8 206.1 L1125.3 206.1 L1125.3 206.4 L1128.8 206.4 L1128.8 206.7 L1130.5 206.7 L1132 206.7 L1132 207.1 L1135.1 207.1 L1135.1 207.5 L1138.2 207.5 L1138.2 207.9 L1141.3 207.9 L1141.3 208.3 L1144.4 208.3 L1144.4 208.7 L1147.5 208.7 L1147.5 209.1 L1150.6 209.1 L1150.6 209.5 L1152.2 209.5 L1154 209.5 L1154 210.4 L1157.6 210.4 L1157.6 211.3 L1161.2 211.3 L1161.2 212.2 L1164.8 212.2 L1164.8 213.1 L1166.6 213.1 L1168.1 213.1 L1168.1 213.3 L1171.1 213.3 L1171.1 213.5 L1174.1 213.5 L1174.1 213.7 L1177.2 213.7 L1177.2 213.9 L1180.2 213.9 L1180.2 214.1 L1183.2 214.1 L1183.2 214.3 L1184.7 214.3 L1186.5 214.3 L1186.5 217.8 L1190.2 217.8 L1190.2 221.2 L1192 221.2 L1193.6 221.2 L1196.8 221.2 L1200 221.2 L1200 221.3 L1203.2 221.3 L1206.3 221.3 L1209.5 221.3 L1212.7 221.3 L1212.7 221.4 L1215.9 221.4 L1219.1 221.4 L1222.3 221.4 L1225.5 221.4 L1225.5 221.5 L1228.7 221.5 L1231.9 221.5 L1235 221.5 L1238.2 221.5 L1238.2 221.6 L1241.4 221.6 L1244.6 221.6 L1246.2 221.6 L1248.1 221.6 L1248.1 224.8 L1249.9 224.8 L1282.4 223.9 L1284 223.9 L1284 224.1 L1287.3 224.1 L1287.3 224.3 L1290.6 224.3 L1290.6 224.4 L1293.8 224.4 L1293.8 224.6 L1297.1 224.6 L1297.1 224.8 L1298.7 224.8 L1318.6 224.8 L1320.2 224.8 L1320.2 224.9 L1323.4 224.9 L1326.6 224.9 L1326.6 225 L1329.8 225 L1329.8 225.1 L1333 225.1 L1336.2 225.1 L1336.2 225.2 L1339.4 225.2 L1339.4 225.3 L1342.6 225.3 L1342.6 225.4 L1345.8 225.4 L1349 225.4 L1349 225.5 L1352.2 225.5 L1352.2 225.6 L1355.4 225.6 L1358.6 225.6 L1358.6 225.7 L1360.2 225.7 L1361.1 225.7 L1361.1 232.1 L1362 232.1 L1363.5 232.1 L1363.5 232.5 L1366.6 232.5 L1366.6 232.9 L1369.7 232.9 L1369.7 233.3 L1372.8 233.3 L1372.8 233.6 L1375.9 233.6 L1375.9 234 L1379 234 L1379 234.4 L1382.1 234.4 L1382.1 234.8 L1383.7 234.8 L1385.2 234.8 L1385.2 235.3 L1388.2 235.3 L1388.2 235.8 L1391.3 235.8 L1391.3 236.3 L1394.3 236.3 L1394.3 236.8 L1397.3 236.8 L1397.3 237.3 L1400.3 237.3 L1400.3 237.8 L1403.3 237.8 L1403.3 238.3 L1406.4 238.3 L1406.4 238.8 L1409.4 238.8 L1409.4 239.3 L1410.9 239.3 L1419.9 239.3 L1420 240.5 L1434.5 239.6 L1436 239.6 L1436 240.1 L1439.1 240.1 L1439.1 240.6 L1442.2 240.6 L1442.2 241.1 L1445.3 241.1 L1445.3 241.7 L1448.4 241.7 L1448.4 242.2 L1451.5 242.2 L1451.5 242.7 L1454.6 242.7 L1454.6 243.2 L1456.2 243.2 L1457.9 243.2 L1457.9 243.4 L1461.3 243.4 L1461.3 243.6 L1464.7 243.6 L1464.7 243.9 L1468.1 243.9 L1468.1 244.1 L1471.4 244.1 L1471.4 244.3 L1474.8 244.3 L1474.8 244.5 L1478.2 244.5 L1478.2 244.8 L1481.6 244.8 L1481.6 245 L1483.3 245 L1484.8 245 L1484.8 245.5 L1487.7 245.5 L1487.7 246.1 L1490.6 246.1 L1490.6 246.6 L1493.5 246.6 L1493.5 247.2 L1496.4 247.2 L1496.4 247.7 L1497.8 247.7 L1499.4 247.7 L1499.4 248.6 L1502.7 248.6 L1502.7 249.5 L1505.9 249.5 L1505.9 250.4 L1509.2 250.4 L1509.2 251.3 L1512.5 251.3 L1512.5 252.2 L1514.1 252.2 L1515.8 252.2 L1515.8 252.3 L1519.1 252.3 L1519.1 252.5 L1522.5 252.5 L1522.5 252.6 L1525.8 252.6 L1525.8 252.7 L1529.2 252.7 L1529.2 252.8 L1532.6 252.8 L1532.6 253 L1535.9 253 L1535.9 253.1 L1537.6 253.1 L1539.1 253.1 L1539.1 254.3 L1542.1 254.3 L1542.1 255.5 L1545.1 255.5 L1545.1 256.7 L1546.6 256.7 L1588.2 256.7 L1589.6 256.7 L1589.6 259.9 L1592.3 259.9 L1592.3 263.1 L1593.7 263.1 L1595.2 263.1 L1595.2 263.2 L1598.2 263.2 L1598.2 263.4 L1601.2 263.4 L1601.2 263.5 L1604.3 263.5 L1604.3 263.7 L1607.3 263.7 L1607.3 263.8 L1610.3 263.8 L1610.3 264 L1611.8 264 L1613.6 264 L1613.6 266.2 L1617.2 266.2 L1617.2 268.5 L1619 268.5 L1651.6 268.5 L1653.4 268.5 L1653.4 270.3 L1657 270.3 L1657 272.1 L1658.8 272.1 L1660.2 272.1 L1660.2 272.5 L1663.2 272.5 L1663.2 272.8 L1666.1 272.8 L1666.1 273.2 L1669 273.2 L1669 273.5 L1671.9 273.5 L1671.9 273.9 L1673.3 273.9 L1675.1 273.9 L1675.1 275.7 L1678.7 275.7 L1678.7 277.5 L1680.5 277.5 L1682 277.5 L1682 277.7 L1684.9 277.7 L1684.9 277.9 L1687.8 277.9 L1687.8 278 L1690.7 278 L1690.7 278.2 L1693.6 278.2 L1693.6 278.4 L1695 278.4 L1696.3 278.4 L1696.3 282.5 L1699.1 282.5 L1699.1 286.6 L1700.4 286.6 L1718.5 286.6 L1720.1 286.6 L1720.1 288.4 L1723.3 288.4 L1723.3 290.2 L1726.4 290.2 L1726.4 292 L1729.6 292 L1729.6 293.8 L1731.2 293.8 L1732.7 293.8 L1732.7 294.1 L1735.7 294.1 L1735.7 294.4 L1738.7 294.4 L1738.7 294.7 L1740.2 294.7 L1741.7 294.7 L1741.7 298.3 L1744.8 298.3 L1744.8 302 L1747.8 302 L1747.8 305.6 L1749.3 305.6 L1750.8 305.6 L1750.8 306.1 L1754 306.1 L1754 306.6 L1755.5 306.6 L1757.7 306.6 L1757.7 308.7 L1759.9 308.7 L1761.2 308.7 L1761.2 317.4 L1762.6 317.4 L1763.9 317.4 L1763.9 318.5 L1766.7 318.5 L1766.7 319.6 L1768 319.6 L1769.3 319.6 L1769.3 322.8 L1770.7 322.8 L1772.1 322.8 L1772.1 323.9 L1774.8 323.9 L1774.8 325 L1776.2 325 L1776.8 325 L1776.8 327.7 L1777.3 327.7 L1790.3 327.7 L1791.7 327.7 L1791.7 329.6 L1794.3 329.6 L1794.3 331.5 L1795.7 331.5 L1797.9 331.5 L1797.9 334.8 L1800.1 334.8 L1801.4 334.8 L1801.4 337.5 L1804.2 337.5 L1804.2 340.2 L1805.5 340.2 L1807 340.2 L1807 341.9 L1809.9 341.9 L1809.9 343.5 L1811.4 343.5 L1812 343.5 L1812 347.3 L1812.5 347.3 L1813.9 347.3 L1813.9 347.6 L1816.6 347.6 L1816.6 347.8 L1818 347.8 L1819.9 347.8 L1819.9 352.1 L1821.8 352.1 L1823.7 352.1 L1823.7 354.3 L1827.5 354.3 L1827.5 356.5 L1829.4 356.5 L1831.6 356.5 L1831.6 359.7 L1833.7 359.7 L1834.8 359.7 L1834.8 364.1 L1835.9 364.1 L1837.4 364.1 L1837.4 364.5 L1840.2 364.5 L1840.2 364.8 L1843.1 364.8 L1843.1 365.2 L1844.6 365.2 L1845.7 365.2 L1845.7 369.5 L1846.7 369.5 L1848.3 369.5 L1848.3 370.6 L1851.6 370.6 L1851.6 371.7 L1853.2 371.7 L1855.4 371.7 L1855.4 377.1 L1857.6 377.1 L1858.8 377.1 L1858.8 380.4 L1861.3 380.4 L1861.3 383.6 L1862.5 383.6 L1862.8 383.6 L1862.8 390.1 L1863 390.1 L1863.8 390.1 L1863.8 396.6 L1864.6 396.6 L1865.8 396.6 L1865.8 398.2 L1868.3 398.2 L1868.3 399.9 L1869.5 399.9 L1871.2 399.9 L1871.2 410.8 L1872.8 410.8 L1874.7 410.8 L1874.7 411.3 L1876.6 411.3 L1878.5 411.3 L1878.5 417.3 L1880.4 417.3 L1882.6 417.3 L1882.6 420.5 L1884.7 420.5 L1885.2 420.5 L1885.2 424.9 L1885.8 424.9 L1887.2 424.9 L1887.2 426.5 L1889.8 426.5 L1889.8 428.1 L1891.2 428.1 L1892.1 428.1 L1892.1 434.4 L1892.9 434.4 L1893.8 434.4 L1893.8 437.2 L1894.7 437.2 L1895.5 437.2 L1895.5 444.8 L1896.3 444.8 L1897.9 444.8 L1897.9 446.5 L1901.2 446.5 L1901.2 448.1 L1902.8 448.1 L1903.1 448.1 L1903.1 459 L1903.4 459 L1905.2 459 L1905.2 460.4 L1908.7 460.4 L1908.7 461.7 L1910.4 461.7 L1911.8 461.7 L1911.8 465.5 L1913.2 465.5 L1913.5 465.5 L1913.5 486.1 L1913.7 486.1 L1915.2 486.1 L1915.2 487.7 L1918.2 487.7 L1918.2 489.3 L1919.7 489.3 L1921.3 489.3 L1921.3 492.6 L1922.9 492.6 L1923.2 492.6 L1923.2 496.9 L1923.5 496.9 L1924.8 496.9 L1924.8 500.2 L1926.2 500.2 L1926.8 500.2 L1926.8 513.2 L1927.3 513.2 L1928.5 513.2 L1928.5 515.4 L1931 515.4 L1931 517.6 L1932.2 517.6 L1933.2 517.6 L1933.2 524.1 L1934.3 524.1 L1936.2 524.1 L1936.2 527.3 L1938.1 527.3 L1938.9 527.3 L1938.9 531.7 L1939.8 531.7 L1941.9 531.7 L1941.9 536 L1944.1 536 L1945.4 536 L1945.4 537.1 L1948.2 537.1 L1948.2 538.2 L1949.5 538.2 L1950.8 538.2 L1950.8 543.6 L1952.2 543.6 L1952.8 543.6 L1952.8 555.6 L1953.3 555.6 L1954.5 555.6 L1954.5 557.5 L1957 557.5 L1957 559.4 L1958.2 559.4 L1958.5 559.4 L1958.5 566.4 L1958.7 566.4 L1959.6 566.4 L1959.6 568.6 L1960.4 568.6 L1960.4 575.1 L1961.8 575.1 L1961.8 577.8 L1964.4 577.8 L1964.4 580.5 L1965.8 580.5 L1966 580.5 L1966 585.9 L1966.3 585.9 L1967.5 585.9 L1967.5 588.6 L1970 588.6 L1970 591.4 L1971.2 591.4 L1971.2 594.4 L1971.5 595.1 L1973.4 595.1 L1973.4 598.9 L1975.3 598.9 L1975.6 598.9 L1975.6 607 L1975.9 607 L1977.2 607 L1977.2 610.3 L1978.6 610.3 L1978.8 610.3 L1978.8 622.2 L1979.1 622.2 L1980.2 622.2 L1980.2 625.5 L1981.3 625.5 L1983.4 625.5 L1983.4 626.6 L1985.6 626.6 L1987.5 626.6 L1987.5 633.1 L1989.4 633.1 L1989.7 633.1 L1989.7 636.9 L1990 636.9 L1991.3 636.9 L1991.3 638.5 L1992.7 638.5 L1992.7 642.8 L1993.5 642.8 L1993.5 645 L1994.3 645 L1994.6 645 L1994.6 651.5 L1994.9 651.5 L1996.2 651.5 L1996.2 655.9 L1997.6 655.9 L1999.2 655.9 L1999.2 657.5 L2002.5 657.5 L2002.5 659.1 L2004.1 659.1 L2006 659.1 L2006 661.3 L2007.9 661.3 L2008.7 661.3 L2008.7 667.8 L2009.5 667.8 L2010.6 667.8 L2010.6 671.6 L2011.7 671.6 L2013.1 671.6 L2013.1 674.9 L2014.4 674.9 L2014.7 674.9 L2014.7 683 L2014.9 683 L2016 683 L2016 685.7 L2017.1 685.7 L2017.4 685.7 L2017.4 693.8 L2017.7 693.8 L2018.5 693.8 L2018.5 698.2 L2019.3 698.2 L2019.5 698.2 L2019.5 706.9 L2019.8 706.9 L2020.9 706.9 L2020.9 711.2 L2022 711.2 L2022.5 711.2 L2022.5 715.6 L2023.1 715.6 L2024.2 715.6 L2024.2 719.9 L2025.3 719.9 L2025.5 719.9 L2025.5 725.3 L2025.8 725.3 L2026.9 725.3 L2026.9 730.8 L2028 730.8 L2028.2 730.8 L2028.2 735.1 L2028.5 735.1 L2029.6 735.1 L2029.6 736.2 L2030.7 736.2 L2030.7 745.9 L2031.5 745.9 L2031.5 749.2 L2032.3 749.2 L2032.3 754.4 L2032.6 756.2 L2033.9 756.2 L2033.9 760.5 L2035.3 760.5 L2035.8 760.5 L2035.8 772.4 L2036.4 772.4 L2038.1 772.4 L2038.1 773.5 L2039.7 773.5 L2041.3 773.5 L2041.3 779 L2042.9 779 L2043.2 779 L2043.2 793.1 L2043.5 793.1 L2044.5 793.1 L2044.5 795.2 L2045.6 795.2 L2047.2 795.2 L2047.2 797.4 L2048.9 797.4 L2049.2 797.4 L2049.2 803.9 L2049.4 803.9 L2051.3 803.9 L2051.3 807.7 L2053.2 807.7 L2053.8 807.7 L2053.8 810.4 L2054.3 810.4 L2054.3 820.2 L2055.4 820.2 L2055.4 822.9 L2056.5 822.9 L2056.8 822.9 L2056.8 830 L2057 830 L2057.6 830 L2057.6 831.1 L2058.1 831.1 L2058.4 831.1 L2058.4 848.4 L2058.7 848.4 L2059.2 848.4 L2059.2 849.5 L2059.8 849.5 L2059.8 858.2 L2060.6 858.2 L2060.6 859.8 L2061.4 859.8 L2061.4 876.6 L2062.8 876.6 L2062.8 879.9 L2064.1 879.9 L2065.2 879.9 L2065.2 884.2 L2066.3 884.2 L2066.3 897.3 L2066.8 897.3 L2066.8 898.3 L2067.3 898.3 L2067.3 914.4 L2067.6 914.4 L2067.6 917.8 L2067.8 917.8 L2069.4 917.8 L2069.4 921.6 L2071.1 921.6 L2071.3 921.6 L2071.3 932.4 L2071.6 932.4 L2073.2 932.4 L2073.2 937.9 L2074.9 937.9 L2076.5 937.9 L2076.5 941.1 L2078.1 941.1 L2078.9 941.1 L2078.9 944.4 L2079.8 944.4 L2081.7 944.4 L2081.7 946.6 L2083.5 946.6 L2084.3 946.6 L2084.3 949.8 L2085.2 949.8 L2087.1 949.8 L2087.1 951.7 L2090.9 951.7 L2090.9 953.6 L2092.8 953.6 L2093.9 953.6 L2093.9 955.8 L2094.9 955.8 L2095.4 955.8 L2095.4 965 L2096 965 L2096.8 965 L2096.8 970.4 L2097.7 970.4 L2097.9 970.4 L2097.9 975.9 L2098.2 975.9 L2099.8 975.9 L2099.8 979.1 L2101.5 979.1 L2102.3 979.1 L2102.3 981.3 L2103.1 981.3 L2103.3 981.3 L2103.3 1005.2 L2103.6 1005.2 L2104.9 1005.2 L2104.9 1007.3 L2106.3 1007.3 L2106.3 1018.2 L2107.9 1018.2 L2107.9 1021.4 L2109.6 1021.4 L2110.4 1021.4 L2110.4 1025.8 L2111.2 1025.8 L2111.2 1033.4 L2112.3 1033.4 L2112.3 1035.6 L2113.4 1035.6 L2113.7 1035.6 L2113.7 1043.2 L2113.9 1043.2 L2115.3 1043.2 L2115.3 1044.2 L2118 1044.2 L2118 1045.3 L2119.4 1045.3 L2119.4 1057.3 L2120.4 1057.3 L2120.4 1060.5 L2121.5 1060.5 L2121.5 1072.5 L2122.1 1072.5 L2122.1 1074.4 L2122.6 1074.4 L2123.1 1074.4 L2123.1 1075.1 L2123.6 1075.1 L2123.6 1100 L2124.9 1100 L2124.9 1105.5 L2126.3 1105.5 L2126.6 1105.5 L2126.6 1120.7 L2126.9 1120.7 L2128.2 1120.7 L2128.2 1123.9 L2129.6 1123.9 L2129.6 1166.2 L2130.9 1166.2 L2130.9 1168.4 L2132.3 1168.4 L2132.6 1168.4 L2132.6 1178.2 L2132.9 1178.2 L2134.8 1178.2 L2134.8 1182 L2136.7 1182 L2136.7 1208.6 L2138 1208.6 L2138 1209.2 L2140.7 1209.2 L2140.7 1209.7 L2142.1 1209.7 L2143.3 1209.7 L2143.3 1211.6 L2145.8 1211.6 L2145.8 1213.5 L2147 1213.5 L2148.1 1213.5 L2148.1 1216.2 L2149.1 1216.2 L2149.4 1216.2 L2149.4 1228.1 L2149.7 1228.1 L2151.8 1228.1 L2151.8 1231.4 L2154 1231.4 L2155.7 1231.4 L2155.7 1234.4 L2157.3 1234.4 L2157.5 1234.4 L2157.5 1242.1 L2157.7 1242.1 L2159.1 1242.1 L2159.1 1249.2 L2160.4 1249.2 L2160.7 1249.2 L2160.7 1259 L2160.9 1259 L2162 1259 L2162 1261.7 L2163.1 1261.7 L2163.3 1261.7 L2163.3 1281.2 L2163.6 1281.2 L2165.8 1281.2 L2165.8 1286.6 L2168 1286.6 L2169.1 1286.6 L2169.1 1292.6 L2170.1 1292.6 L2170.4 1292.6 L2170.4 1315.9 L2170.7 1315.9 L2172.1 1315.9 L2172.1 1320.3 L2173.4 1320.3 L2173.7 1320.3 L2173.7 1328.4 L2173.9 1328.4 L2175 1328.4 L2175 1333.8 L2176.1 1333.8 L2176.4 1333.8 L2176.4 1341.4 L2176.7 1341.4 L2177.5 1341.4 L2177.5 1343.1 L2178.3 1343.1 L2178.6 1343.1 L2178.6 1371.3 L2178.8 1371.3 L2179.9 1371.3 L2179.9 1374 L2181 1374 L2181.2 1374 L2181.2 1387 L2181.5 1387 L2182.3 1387 L2182.3 1389.2 L2183.2 1389.2 L2183.2 1394.4 L2183.3 1394.4 L2183.3 1402.6 L2183.5 1402.6 L2183.5 1443.7 L2188.4 1443.7"/>
<path stroke="#0000ff" stroke-width="8.4" stroke-linejoin="miter" stroke-linecap="butt" d="M846.3 182.3h1.67v0.15h1.67v0.15h1.67v0.15h1.67v0.15h1.67v0.15h1.67v0.15h0.23v1.5h0.23v1.5h0.23v1.5h0.23v1.5M947.3 185.4h0.55v1.6h0.55v1.6M964.7 188.6h0.7v1.83h0.7v1.83h0.7v1.83M1003.7 193.5h0.55v1.35h0.55v1.35M1020 195.7h1.1v2.2M1064.6 196.8h1.6v2.2M1108 200.6h0.57v1.43h0.57v1.43h0.57v1.43h1.6v0.14h1.6v0.14h1.6v0.14h1.6v0.14h1.6v0.14h1.6v0.14h1.6v0.14h1.6v0.14h1.6v0.14h1.6v0.14h1.6v0.14h1.6v0.14h1.6v0.14h1.55v0.2h1.55v0.2h1.55v0.2h1.55v0.2h1.55v0.2h1.55v0.2h1.55v0.2h1.55v0.2h1.55v0.2h1.55v0.2h1.55v0.2h1.55v0.2h1.55v0.2h1.55v0.2h1.6v0.4h1.6v0.4h1.6v0.4h1.6v0.4h1.6v0.4h1.6v0.4h1.6v0.4h1.6v0.4h1.6v0.4h1.65v0.11h1.65v0.11h1.65v0.11h1.65v0.11h1.65v0.11h1.65v0.11h1.65v0.11h1.65v0.11h1.65v0.11h1.65v0.11h1.65v0.11h1.46v1.38h1.46v1.38h1.46v1.38h1.46v1.38h1.46v1.38M1246.2 221.6h1.85v1.6h1.85v1.6M1282.4 223.9h1.63v0.09h1.63v0.09h1.63v0.09h1.63v0.09h1.63v0.09h1.63v0.09h1.63v0.09h1.63v0.09h1.63v0.09h1.63v0.09M1318.6 224.8h1.6v0.03h1.6v0.03h1.6v0.03h1.6v0.03h1.6v0.03h1.6v0.03h1.6v0.03h1.6v0.03h1.6v0.03h1.6v0.03h1.6v0.03h1.6v0.03h1.6v0.03h1.6v0.03h1.6v0.03h1.6v0.03h1.6v0.03h1.6v0.03h1.6v0.03h1.6v0.03h1.6v0.03h1.6v0.03h1.6v0.03h1.6v0.03h1.6v0.03h1.6v0.03h0.45v1.6h0.45v1.6h0.45v1.6h0.45v1.6h1.55v0.19h1.55v0.19h1.55v0.19h1.55v0.19h1.55v0.19h1.55v0.19h1.55v0.19h1.55v0.19h1.55v0.19h1.55v0.19h1.55v0.19h1.55v0.19h1.55v0.19h1.55v0.19h1.6v0.26h1.6v0.26h1.6v0.26h1.6v0.26h1.6v0.26h1.6v0.26h1.6v0.26h1.6v0.26h1.6v0.26h1.6v0.26h1.6v0.26h1.6v0.26h1.6v0.26h1.6v0.26h1.6v0.26h1.6v0.26h1.6v0.26M1434.5 239.6h1.55v0.26h1.55v0.26h1.55v0.26h1.55v0.26h1.55v0.26h1.55v0.26h1.55v0.26h1.55v0.26h1.55v0.26h1.55v0.26h1.55v0.26h1.55v0.26h1.55v0.26h1.55v0.26h1.59v0.11h1.59v0.11h1.59v0.11h1.59v0.11h1.59v0.11h1.59v0.11h1.59v0.11h1.59v0.11h1.59v0.11h1.59v0.11h1.59v0.11h1.59v0.11h1.59v0.11h1.59v0.11h1.59v0.11h1.59v0.11h1.59v0.11h1.61v0.3h1.61v0.3h1.61v0.3h1.61v0.3h1.61v0.3h1.61v0.3h1.61v0.3h1.61v0.3h1.61v0.3h1.63v0.45h1.63v0.45h1.63v0.45h1.63v0.45h1.63v0.45h1.63v0.45h1.63v0.45h1.63v0.45h1.63v0.45h1.63v0.45h1.57v0.06h1.57v0.06h1.57v0.06h1.57v0.06h1.57v0.06h1.57v0.06h1.57v0.06h1.57v0.06h1.57v0.06h1.57v0.06h1.57v0.06h1.57v0.06h1.57v0.06h1.57v0.06h1.57v0.06h1.5v0.6h1.5v0.6h1.5v0.6h1.5v0.6h1.5v0.6h1.5v0.6M1588.2 256.7h1.38v1.6h1.38v1.6h1.38v1.6h1.38v1.6h1.65v0.08h1.65v0.08h1.65v0.08h1.65v0.08h1.65v0.08h1.65v0.08h1.65v0.08h1.65v0.08h1.65v0.08h1.65v0.08h1.65v0.08h1.44v0.9h1.44v0.9h1.44v0.9h1.44v0.9h1.44v0.9M1651.6 268.5h1.44v0.72h1.44v0.72h1.44v0.72h1.44v0.72h1.44v0.72h1.61v0.2h1.61v0.2h1.61v0.2h1.61v0.2h1.61v0.2h1.61v0.2h1.61v0.2h1.61v0.2h1.61v0.2h1.44v0.72h1.44v0.72h1.44v0.72h1.44v0.72h1.44v0.72h1.61v0.1h1.61v0.1h1.61v0.1h1.61v0.1h1.61v0.1h1.61v0.1h1.61v0.1h1.61v0.1h1.61v0.1h1.08v1.64h1.08v1.64h1.08v1.64h1.08v1.64h1.08v1.64M1718.5 286.6h1.59v0.9h1.59v0.9h1.59v0.9h1.59v0.9h1.59v0.9h1.59v0.9h1.59v0.9h1.59v0.9h1.5v0.15h1.5v0.15h1.5v0.15h1.5v0.15h1.5v0.15h1.5v0.15h1.3v1.56h1.3v1.56h1.3v1.56h1.3v1.56h1.3v1.56h1.3v1.56h1.3v1.56h1.55v0.25h1.55v0.25h1.55v0.25h1.55v0.25h1.47v0.7h1.47v0.7h1.47v0.7h0.54v1.74h0.54v1.74h0.54v1.74h0.54v1.74h0.54v1.74h1.8v0.73h1.8v0.73h1.8v0.73h1.35v1.6h1.35v1.6h1.83v0.73h1.83v0.73h1.83v0.73h0.55v1.35h0.55v1.35M1790.3 327.7h1.8v1.27h1.8v1.27h1.8v1.27h1.47v1.1h1.47v1.1h1.47v1.1h1.8v1.8h1.8v1.8h1.8v1.8h1.48v0.83h1.48v0.83h1.48v0.83h1.48v0.83h0.55v1.9h0.55v1.9M1818 347.8h1.27v1.43h1.27v1.43h1.27v1.43h1.52v0.88h1.52v0.88h1.52v0.88h1.52v0.88h1.52v0.88h1.43v1.07h1.43v1.07h1.43v1.07h0.73v1.47h0.73v1.47h0.73v1.47h1.74v0.22h1.74v0.22h1.74v0.22h1.74v0.22h1.74v0.22h0.7v1.43h0.7v1.43h0.7v1.43h1.62v0.55h1.62v0.55h1.62v0.55h1.62v0.55h1.47v1.8h1.47v1.8h1.47v1.8h1.23v1.62h1.23v1.62h1.23v1.62h1.23v1.62M1863 390.1h0.4v1.62h0.4v1.62h0.4v1.62h0.4v1.62h1.63v1.1h1.63v1.1h1.63v1.1h0.47v1.56h0.47v1.56h0.47v1.56h0.47v1.56h0.47v1.56h0.47v1.56h0.47v1.56M1876.6 411.3h0.95v1.5h0.95v1.5h0.95v1.5h0.95v1.5h1.43v1.07h1.43v1.07h1.43v1.07h0.37v1.47h0.37v1.47h0.37v1.47h1.8v1.07h1.8v1.07h1.8v1.07h0.43v1.57h0.43v1.57h0.43v1.57h0.43v1.57h0.9v1.4h0.9v1.4h0.32v1.52h0.32v1.52h0.32v1.52h0.32v1.52h0.32v1.52h1.62v0.83h1.62v0.83h1.62v0.83h1.62v0.83h0.09v1.56h0.09v1.56h0.09v1.56h0.09v1.56h0.09v1.56h0.09v1.56h0.09v1.56h1.75v0.67h1.75v0.67h1.75v0.67h1.75v0.67h1.4v1.9h1.4v1.9M1913.7 486.1h1.5v0.8h1.5v0.8h1.5v0.8h1.5v0.8h1.6v1.65h1.6v1.65M1923.5 496.9h1.35v1.65h1.35v1.65h0.14v1.63h0.14v1.63h0.14v1.63h0.14v1.63h0.14v1.63h0.14v1.63h0.14v1.63h0.14v1.63h1.63v1.47h1.63v1.47h1.63v1.47h0.52v1.62h0.52v1.62h0.52v1.62h0.52v1.62h1.9v1.6h1.9v1.6h0.57v1.47h0.57v1.47h0.57v1.47h1.43v1.43h1.43v1.43h1.43v1.43h1.8v0.73h1.8v0.73h1.8v0.73h0.9v1.8h0.9v1.8h0.9v1.8h0.14v1.5h0.14v1.5h0.14v1.5h0.14v1.5h0.14v1.5h0.14v1.5h0.14v1.5h0.14v1.5h1.63v1.27h1.63v1.27h1.63v1.27M1958.7 566.4h1.7v2.2M1960.4 575.1h1.8v1.8h1.8v1.8h1.8v1.8M1966.3 585.9h1.63v1.83h1.63v1.83h1.63v1.83M1971.5 595.1h1.9v1.9h1.9v1.9h0.12v1.62h0.12v1.62h0.12v1.62h0.12v1.62h0.12v1.62h1.35v1.65h1.35v1.65M1979.1 622.2h1.1v1.65h1.1v1.65h1.43v0.37h1.43v0.37h1.43v0.37h0.95v1.62h0.95v1.62h0.95v1.62h0.95v1.62M1990 636.9h1.35v0.8h1.35v0.8M1992.7 642.8h1.6v2.2h0.15v1.62h0.15v1.62h0.15v1.62h0.15v1.62h0.9v1.47h0.9v1.47h0.9v1.47h1.62v0.8h1.62v0.8h1.62v0.8h1.62v0.8h1.9v1.1h1.9v1.1h0.4v1.62h0.4v1.62h0.4v1.62h0.4v1.62h1.1v1.9h1.1v1.9h1.35v1.65h1.35v1.65M2014.9 683h1.1v1.35h1.1v1.35h0.12v1.62h0.12v1.62h0.12v1.62h0.12v1.62h0.12v1.62h0.53v1.47h0.53v1.47h0.53v1.47M2019.8 706.9h0.73v1.43h0.73v1.43h0.73v1.43h0.37v1.47h0.37v1.47h0.37v1.47h0.73v1.43h0.73v1.43h0.73v1.43M2025.8 725.3h0.73v1.83h0.73v1.83h0.73v1.83M2028.5 735.1h2.2v1.1M2030.7 745.9h0.8v1.65h0.8v1.65M2032.6 756.2h0.9v1.43h0.9v1.43h0.9v1.43h0.16v1.7h0.16v1.7h0.16v1.7h0.16v1.7h0.16v1.7h0.16v1.7h0.16v1.7h1.65v0.55h1.65v0.55h1.07v1.83h1.07v1.83h1.07v1.83M2043.5 793.1h2.1v2.1h1.65v1.1h1.65v1.1M2049.4 803.9h1.9v1.9h1.9v1.9h0.55v1.35h0.55v1.35M2054.3 820.2h1.1v1.35h1.1v1.35M2057 830h1.1v1.1M2058.7 848.4h1.1v1.1M2059.8 858.2h1.6v1.6M2061.4 876.6h1.35v1.65h1.35v1.65h0.73v1.43h0.73v1.43h0.73v1.43M2066.3 897.3h1v1M2067.8 917.8h1.65v1.9h1.65v1.9M2071.6 932.4h1.1v1.83h1.1v1.83h1.1v1.83h1.6v1.6h1.6v1.6h0.85v1.65h0.85v1.65h1.85v1.1h1.85v1.1h0.85v1.6h0.85v1.6h1.52v0.76h1.52v0.76h1.52v0.76h1.52v0.76h1.52v0.76h2.1v2.2h0.18v1.53h0.18v1.53h0.18v1.53h0.18v1.53h0.18v1.53h0.18v1.53h0.57v1.8h0.57v1.8h0.57v1.8M2098.2 975.9h1.65v1.6h1.65v1.6h1.6v2.2M2103.6 1005.2h1.35v1.05h1.35v1.05M2106.3 1018.2h1.65v1.6h1.65v1.6h0.53v1.47h0.53v1.47h0.53v1.47M2111.2 1033.4h2.2v2.2M2113.9 1043.2h1.83v0.7h1.83v0.7h1.83v0.7M2119.4 1057.3h1.05v1.6h1.05v1.6M2121.5 1072.5h1.1v1.9h1v0.7M2123.6 1100h0.9v1.83h0.9v1.83h0.9v1.83M2126.9 1120.7h1.35v1.6h1.35v1.6M2129.6 1166.2h1.35v1.1h1.35v1.1M2132.9 1178.2h1.9v1.9h1.9v1.9M2136.7 1208.6h1.8v0.37h1.8v0.37h1.8v0.37h1.63v1.27h1.63v1.27h1.63v1.27h1.05v1.35h1.05v1.35M2149.7 1228.1h1.43v1.1h1.43v1.1h1.43v1.1h1.65v1.5h1.65v1.5M2157.7 1242.1h0.68v1.78h0.68v1.78h0.68v1.78h0.68v1.78M2160.9 1259h1.1v1.35h1.1v1.35M2163.6 1281.2h1.47v1.8h1.47v1.8h1.47v1.8h0.52v1.5h0.52v1.5h0.52v1.5h0.52v1.5M2170.7 1315.9h0.9v1.47h0.9v1.47h0.9v1.47M2173.9 1328.4h0.73v1.8h0.73v1.8h0.73v1.8M2176.7 1341.4h1.6v1.7M2178.8 1371.3h1.1v1.35h1.1v1.35M2181.5 1387h1.7v2.2"/>
<path stroke="#008000" d="M304.4 160.4 L467.6 160.4 L467.6 174.2 L544.1 170.6 L544.8 170.6 L544.8 179.1 L545.4 179.1 L621 175.6 L621 182.3 L659.9 180.5 L660 179.6 L679.9 178.2 L703.4 178.2 L704.8 178.2 L704.8 183.2 L706.1 183.2 L808.3 179.1 L851.8 177.8 L852.2 177.8 L852.2 181.8 L852.7 181.8 L880.9 180.9 L880.9 186.5 L883 186.5 L883 187.2 L885.1 187.2 L885.1 195.2 L916.9 194.1 L916.9 200.4 L938.6 199.5 L939.5 199.5 L939.5 202.2 L940.4 202.2 L976.6 201.9 L1003.7 199.5 L1005.5 199.5 L1005.5 202.2 L1007.4 202.2 L1029.1 200.9 L1029.5 200.9 L1029.5 206.6 L1030 206.6 L1040.8 206.6 L1041.7 206.6 L1041.7 209.6 L1042.6 209.6 L1043.6 209.3 L1063.5 208.2 L1112.4 205.3 L1114.2 205.3 L1114.2 205.8 L1116 205.8 L1118.2 205.8 L1118.2 210 L1120.5 210 L1122 210 L1122 210.6 L1125.1 210.6 L1125.1 211.2 L1128.2 211.2 L1128.2 211.9 L1131.3 211.9 L1131.3 212.5 L1134.4 212.5 L1134.4 213.1 L1135.9 213.1 L1166.6 211.6 L1235.4 208.5 L1236.9 208.5 L1236.9 209.1 L1239.9 209.1 L1239.9 209.8 L1242.9 209.8 L1242.9 210.4 L1244.4 210.4 L1245.9 210.4 L1245.9 211.2 L1248.9 211.2 L1248.9 211.9 L1251.9 211.9 L1251.9 212.7 L1255 212.7 L1255 213.4 L1258 213.4 L1258 214.2 L1261 214.2 L1261 214.9 L1262.5 214.9 L1264.1 214.9 L1264.1 215.8 L1267.3 215.8 L1267.3 216.7 L1270.4 216.7 L1270.4 217.6 L1273.6 217.6 L1273.6 218.5 L1275.2 218.5 L1276.7 218.5 L1276.7 219.1 L1279.7 219.1 L1279.7 219.7 L1282.7 219.7 L1282.7 220.3 L1285.8 220.3 L1285.8 220.9 L1288.8 220.9 L1288.8 221.5 L1291.8 221.5 L1291.8 222.1 L1293.3 222.1 L1294.8 222.1 L1294.8 222.4 L1297.8 222.4 L1297.8 222.6 L1300.8 222.6 L1300.8 222.9 L1303.9 222.9 L1303.9 223.2 L1306.9 223.2 L1306.9 223.4 L1309.9 223.4 L1309.9 223.7 L1311.4 223.7 L1312.9 223.7 L1312.9 224.8 L1314.4 224.8 L1314.4 232.4 L1316 232.4 L1316 232.9 L1319.2 232.9 L1319.2 233.5 L1322.3 233.5 L1322.3 234.1 L1325.5 234.1 L1325.5 234.6 L1328.7 234.6 L1328.7 235.2 L1331.8 235.2 L1331.8 235.7 L1333.4 235.7 L1335.2 235.7 L1335.2 235.8 L1338.7 235.8 L1342.3 235.8 L1342.3 235.9 L1345.8 235.9 L1345.8 236 L1347.6 236 L1349.2 236 L1349.2 237.2 L1352.3 237.2 L1352.3 238.4 L1355.5 238.4 L1355.5 239.6 L1358.6 239.6 L1358.6 240.8 L1360.2 240.8 L1361.9 240.8 L1361.9 241.2 L1365.2 241.2 L1365.2 241.5 L1368.6 241.5 L1368.6 241.9 L1372 241.9 L1372 242.2 L1375.3 242.2 L1375.3 242.6 L1378.7 242.6 L1378.7 242.9 L1382 242.9 L1382 243.3 L1383.7 243.3 L1385.3 243.3 L1385.3 243.4 L1388.6 243.4 L1388.6 243.5 L1391.8 243.5 L1391.8 243.6 L1395.1 243.6 L1395.1 243.7 L1398.4 243.7 L1398.4 243.8 L1401.6 243.8 L1404.9 243.8 L1404.9 243.9 L1408.2 243.9 L1408.2 244 L1411.4 244 L1411.4 244.1 L1414.7 244.1 L1414.7 244.2 L1416.3 244.2 L1418.1 244.2 L1418.1 246.7 L1419.9 246.7 L1420 246.8 L1421.5 246.8 L1421.5 247.3 L1424.4 247.3 L1424.4 247.9 L1427.3 247.9 L1427.3 248.4 L1430.2 248.4 L1430.2 249 L1433.1 249 L1433.1 249.5 L1434.5 249.5 L1436 249.5 L1436 249.6 L1439.1 249.6 L1439.1 249.8 L1442.2 249.8 L1442.2 249.9 L1445.3 249.9 L1445.3 250 L1448.4 250 L1448.4 250.1 L1451.5 250.1 L1451.5 250.3 L1454.6 250.3 L1454.6 250.4 L1456.2 250.4 L1457.9 250.4 L1457.9 250.5 L1461.2 250.5 L1461.2 250.7 L1464.6 250.7 L1464.6 250.8 L1468 250.8 L1468 250.9 L1471.3 250.9 L1471.3 251 L1474.7 251 L1474.7 251.2 L1478 251.2 L1478 251.3 L1479.7 251.3 L1481.5 251.3 L1481.5 254 L1483.3 254 L1484.8 254 L1484.8 254.2 L1487.8 254.2 L1487.8 254.3 L1490.8 254.3 L1490.8 254.5 L1493.9 254.5 L1493.9 254.6 L1496.9 254.6 L1496.9 254.8 L1499.9 254.8 L1499.9 254.9 L1501.4 254.9 L1502.9 254.9 L1502.9 255.8 L1505.9 255.8 L1505.9 256.7 L1508.9 256.7 L1508.9 257.7 L1512 257.7 L1512 258.6 L1515 258.6 L1515 259.5 L1518 259.5 L1518 260.4 L1519.5 260.4 L1521.2 260.4 L1521.2 260.6 L1524.6 260.6 L1524.6 260.9 L1528 260.9 L1528 261.1 L1531.4 261.1 L1531.4 261.3 L1534.7 261.3 L1534.7 261.5 L1538.1 261.5 L1538.1 261.8 L1541.5 261.8 L1541.5 262 L1544.9 262 L1544.9 262.2 L1546.6 262.2 L1548.1 262.2 L1548.1 262.6 L1551.1 262.6 L1551.1 263.1 L1554.1 263.1 L1554.1 263.5 L1557.2 263.5 L1557.2 264 L1560.2 264 L1560.2 264.4 L1563.2 264.4 L1563.2 264.9 L1564.7 264.9 L1566.2 264.9 L1566.2 266.5 L1569.2 266.5 L1569.2 268.2 L1572.2 268.2 L1572.2 269.8 L1575.3 269.8 L1575.3 271.5 L1578.3 271.5 L1578.3 273.1 L1581.3 273.1 L1581.3 274.8 L1582.8 274.8 L1584.4 274.8 L1584.4 274.9 L1587.6 274.9 L1587.6 275 L1590.7 275 L1590.7 275.1 L1593.9 275.1 L1593.9 275.3 L1597.1 275.3 L1597.1 275.4 L1600.3 275.4 L1600.3 275.5 L1603.4 275.5 L1603.4 275.6 L1606.6 275.6 L1606.6 275.7 L1608.2 275.7 L1609.9 275.7 L1609.9 277.1 L1613.2 277.1 L1613.2 278.4 L1616.5 278.4 L1616.5 279.8 L1619.8 279.8 L1619.8 281.2 L1623.1 281.2 L1623.1 282.5 L1626.4 282.5 L1626.4 283.9 L1628.1 283.9 L1628.5 283.9 L1628.5 294.7 L1629 294.7 L1630.7 294.7 L1630.7 295.1 L1634.1 295.1 L1634.1 295.4 L1637.6 295.4 L1637.6 295.8 L1641 295.8 L1641 296.1 L1644.4 296.1 L1644.4 296.5 L1646.1 296.5 L1648 296.5 L1648 302.1 L1652 302.1 L1652 307.8 L1653.9 307.8 L1655.5 307.8 L1655.5 308.2 L1658.6 308.2 L1658.6 308.5 L1661.7 308.5 L1661.7 308.9 L1664.8 308.9 L1664.8 309.3 L1668 309.3 L1668 309.6 L1671.1 309.6 L1671.1 310 L1674.2 310 L1674.2 310.3 L1677.3 310.3 L1677.3 310.7 L1678.9 310.7 L1680 310.7 L1680 313.4 L1681.1 313.4 L1682.5 313.4 L1682.5 313.5 L1685.4 313.5 L1685.4 313.6 L1688.3 313.6 L1688.3 313.7 L1689.7 313.7 L1691.3 313.7 L1691.3 321 L1693 321 L1695.3 321 L1695.3 321.9 L1697.7 321.9 L1699.2 321.9 L1699.2 322.3 L1702.1 322.3 L1702.1 322.8 L1705.1 322.8 L1705.1 323.2 L1708 323.2 L1708 323.7 L1709.5 323.7 L1710.9 323.7 L1710.9 325.9 L1713.8 325.9 L1713.8 328 L1716.7 328 L1716.7 330.2 L1719.6 330.2 L1719.6 332.3 L1722.5 332.3 L1722.5 334.5 L1723.9 334.5 L1725.5 334.5 L1725.5 334.8 L1728.5 334.8 L1728.5 335 L1731.6 335 L1731.6 335.3 L1734.7 335.3 L1734.7 335.5 L1737.8 335.5 L1737.8 335.8 L1740.9 335.8 L1740.9 336 L1744 336 L1744 336.3 L1745.6 336.3 L1746.5 336.3 L1746.5 349 L1747.5 349 L1749.5 349 L1749.5 355.4 L1753.5 355.4 L1753.5 361.9 L1755.5 361.9 L1757.3 361.9 L1757.3 362 L1760.8 362 L1760.8 362.1 L1764.4 362.1 L1764.4 362.3 L1767.9 362.3 L1767.9 362.4 L1769.7 362.4 L1771.3 362.4 L1771.3 365.2 L1772.9 365.2 L1774.6 365.2 L1774.6 367.9 L1776.2 367.9 L1776.8 367.9 L1776.8 373.8 L1777.3 373.8 L1778.7 373.8 L1778.7 374.5 L1781.6 374.5 L1781.6 375.3 L1784.5 375.3 L1784.5 376 L1785.9 376 L1787.3 376 L1787.3 377.1 L1790 377.1 L1790 378.2 L1791.4 378.2 L1792.8 378.2 L1792.8 379 L1795.4 379 L1795.4 379.8 L1796.8 379.8 L1798.2 379.8 L1798.2 383.6 L1799.5 383.6 L1799.8 383.6 L1799.8 387.4 L1800.1 387.4 L1801.7 387.4 L1801.7 388.2 L1805 388.2 L1805 389 L1806.6 389 L1808.2 389 L1808.2 391.8 L1809.8 391.8 L1810.1 391.8 L1810.1 397.7 L1810.4 397.7 L1812.3 397.7 L1812.3 399.4 L1816.1 399.4 L1816.1 401 L1818 401 L1818.2 401 L1818.2 409.7 L1818.5 409.7 L1820.1 409.7 L1820.1 412.4 L1823.4 412.4 L1823.4 415.1 L1825 415.1 L1826.6 415.1 L1826.6 416.2 L1829.9 416.2 L1829.9 417.3 L1831.5 417.3 L1833.2 417.3 L1833.2 420.5 L1834.8 420.5 L1836.7 420.5 L1836.7 420.8 L1840.5 420.8 L1840.5 421.1 L1842.4 421.1 L1850 421.1 L1852.2 420 L1853.8 420 L1853.8 421.6 L1855.4 421.6 L1856 421.6 L1856 430.3 L1856.5 430.3 L1857.3 430.3 L1857.3 434.4 L1858.1 434.4 L1860.4 434.4 L1860.4 437.2 L1862.7 437.2 L1864 437.2 L1864 440.5 L1866.8 440.5 L1866.8 443.8 L1868.1 443.8 L1868.7 443.8 L1868.7 451.4 L1869.2 451.4 L1871 451.4 L1871 454.6 L1874.5 454.6 L1874.5 457.9 L1876.3 457.9 L1877.7 457.9 L1877.7 465.5 L1879 465.5 L1880.3 465.5 L1880.3 473.1 L1881.7 473.1 L1882 473.1 L1882 478.5 L1882.2 478.5 L1883.4 478.5 L1883.4 479.6 L1885.9 479.6 L1885.9 480.7 L1887.1 480.7 L1887.7 480.7 L1887.7 490.4 L1888.2 490.4 L1889.7 490.4 L1889.7 493.1 L1892.7 493.1 L1892.7 495.9 L1894.2 495.9 L1895.8 495.9 L1895.8 501.3 L1897.4 501.3 L1897.4 508.9 L1898.6 508.9 L1898.6 510.5 L1901.1 510.5 L1901.1 512.1 L1902.3 512.1 L1902.8 512.1 L1902.8 516.5 L1903.4 516.5 L1904.6 516.5 L1904.6 518.1 L1907.1 518.1 L1907.1 519.7 L1908.3 519.7 L1909.7 519.7 L1909.7 526.2 L1911 526.2 L1911.2 526.2 L1911.2 533.8 L1911.5 533.8 L1912.6 533.8 L1912.6 541.4 L1913.7 541.4 L1914.8 541.4 L1914.8 544.7 L1915.9 544.7 L1917.2 544.7 L1917.2 553.4 L1918.6 553.4 L1920.5 553.4 L1920.5 559.9 L1922.4 559.9 L1923.8 559.9 L1923.8 563.1 L1926.4 563.1 L1926.4 566.4 L1927.8 566.4 L1929.4 566.4 L1929.4 570.8 L1931.1 570.8 L1932.7 570.8 L1932.7 574 L1934.3 574 L1934.6 574 L1934.6 581.6 L1934.9 581.6 L1936 581.6 L1936 588.1 L1937 588.1 L1938.8 588.1 L1938.8 590.8 L1942.3 590.8 L1942.3 593.5 L1944.1 593.5 L1944.2 593.5 L1944.2 603.8 L1944.4 603.8 L1945.8 603.8 L1945.8 606.5 L1947.1 606.5 L1948.5 606.5 L1948.5 606.9 L1951.5 606.9 L1951.5 607.2 L1954.4 607.2 L1954.4 607.6 L1955.8 607.6 L1957.2 607.6 L1957.2 609.7 L1958.5 609.7 L1959.6 609.7 L1959.6 617.9 L1960.7 617.9 L1960.7 626.6 L1961.5 626.6 L1961.5 629.8 L1962.3 629.8 L1962.5 629.8 L1962.5 639.6 L1962.8 639.6 L1963.1 639.6 L1963.1 656.4 L1963.4 656.4 L1965.3 656.4 L1965.3 656.9 L1967.2 656.9 L1968.8 656.9 L1968.8 660.2 L1970.4 660.2 L1971 660.2 L1971 667.3 L1971.5 667.3 L1973.7 667.3 L1973.7 672.1 L1975.9 672.1 L1976.2 672.1 L1976.2 683 L1976.4 683 L1977.8 683 L1977.8 683.7 L1980.5 683.7 L1980.5 684.5 L1983.2 684.5 L1983.2 685.2 L1984.6 685.2 L1985.9 685.2 L1985.9 685.7 L1988.7 685.7 L1988.7 686.2 L1990 686.2 L1991.3 686.2 L1991.3 690 L1992.7 690 L1994 690 L1994 690.9 L1996.8 690.9 L1996.8 691.7 L1998.1 691.7 L1998.9 691.7 L1998.9 696 L1999.8 696 L2001.2 696 L2001.2 699.3 L2002.5 699.3 L2002.5 714.5 L2003.5 714.5 L2003.5 716.6 L2004.6 716.6 L2004.6 720.4 L2006.1 720.4 L2006.1 722 L2009.1 722 L2009.1 723.7 L2010.6 723.7 L2011.8 723.7 L2011.8 725.6 L2014.3 725.6 L2014.3 727.5 L2015.5 727.5 L2015.5 754.4 L2015.5 755.6 L2016.8 755.6 L2016.8 756.4 L2019.4 756.4 L2019.4 757.2 L2020.7 757.2 L2021.5 757.2 L2021.5 760.5 L2022.3 760.5 L2022.8 760.5 L2022.8 774.6 L2023.4 774.6 L2025.3 774.6 L2025.3 780 L2027.2 780 L2028.5 780 L2028.5 781.1 L2031.2 781.1 L2031.2 782.2 L2032.6 782.2 L2033.2 782.2 L2033.2 785.5 L2033.7 785.5 L2034.5 785.5 L2034.5 795.2 L2035.3 795.2 L2035.6 795.2 L2035.6 805 L2035.9 805 L2037.1 805 L2037.1 806.1 L2039.6 806.1 L2039.6 807.2 L2040.8 807.2 L2041.2 807.2 L2041.2 821.3 L2041.5 821.3 L2043.5 821.3 L2043.5 822.9 L2045.6 822.9 L2046.2 822.9 L2046.2 826.7 L2046.7 826.7 L2047.2 826.7 L2047.2 834.3 L2047.8 834.3 L2049.4 834.3 L2049.4 838.1 L2051.1 838.1 L2051.3 838.1 L2051.3 847.3 L2051.6 847.3 L2052.4 847.3 L2052.4 850.6 L2053.2 850.6 L2053.5 850.6 L2053.5 873.4 L2053.8 873.4 L2054.1 873.4 L2054.1 891.8 L2054.3 891.8 L2055.7 891.8 L2055.7 897.3 L2057 897.3 L2058.1 897.3 L2058.1 903.8 L2059.2 903.8 L2059.2 914.4 L2060.2 914.4 L2060.2 916.2 L2061.3 916.2 L2062.7 916.2 L2062.7 930.3 L2064 930.3 L2064.3 930.3 L2064.3 945.5 L2064.6 945.5 L2065.9 945.5 L2065.9 948.7 L2067.3 948.7 L2067.3 952 L2068.7 952 L2068.7 952.9 L2071.3 952.9 L2071.3 953.8 L2074 953.8 L2074 954.7 L2075.4 954.7 L2076.5 954.7 L2076.5 959.6 L2077.6 959.6 L2077.8 959.6 L2077.8 967.2 L2078.1 967.2 L2079.2 967.2 L2079.2 970.4 L2080.3 970.4 L2080.3 982.4 L2082.4 982.4 L2082.4 987.8 L2084.6 987.8 L2084.9 987.8 L2084.9 992.1 L2085.2 992.1 L2086.8 992.1 L2086.8 994.9 L2088.4 994.9 L2088.4 1030.1 L2089.2 1030.1 L2089.2 1032.3 L2090.1 1032.3 L2090.3 1032.3 L2090.3 1047.5 L2090.6 1047.5 L2091.4 1047.5 L2091.4 1049.7 L2092.2 1049.7 L2092.5 1049.7 L2092.5 1064.9 L2092.8 1064.9 L2093.9 1064.9 L2093.9 1067 L2094.9 1067 L2095.2 1067 L2095.2 1074.4 L2095.5 1074.4 L2095.5 1076.7 L2097.3 1076.7 L2097.3 1077.8 L2099.2 1077.8 L2100.3 1077.8 L2100.3 1081 L2101.4 1081 L2102.4 1081 L2102.4 1085.9 L2103.5 1085.9 L2103.5 1116.3 L2104.6 1116.3 L2104.6 1117.9 L2105.7 1117.9 L2105.7 1122.3 L2107.1 1122.3 L2107.1 1125 L2108.4 1125 L2108.4 1134.8 L2109.5 1134.8 L2109.5 1137.5 L2110.6 1137.5 L2110.6 1154.3 L2111.1 1154.3 L2111.1 1155.4 L2111.7 1155.4 L2111.7 1166.2 L2112.8 1166.2 L2112.8 1169.5 L2113.9 1169.5 L2116.1 1169.5 L2116.1 1171.7 L2118.2 1171.7 L2118.4 1171.7 L2118.4 1173.8 L2118.7 1173.8 L2118.7 1202.1 L2120.1 1202.1 L2120.1 1205.3 L2121.5 1205.3 L2122.3 1205.3 L2122.3 1208.6 L2123.1 1208.6 L2123.3 1208.6 L2123.3 1223.8 L2123.6 1223.8 L2125.5 1223.8 L2125.5 1228.1 L2127.4 1228.1 L2128.5 1228.1 L2128.5 1233.5 L2129.6 1233.5 L2130.3 1233.5 L2130.3 1235.6 L2131.1 1235.6 L2131.3 1235.6 L2131.3 1243.8 L2131.6 1243.8 L2133.5 1243.8 L2133.5 1245.9 L2135.4 1245.9 L2135.9 1245.9 L2135.9 1250.3 L2136.5 1250.3 L2137.8 1250.3 L2137.8 1251.9 L2139.2 1251.9 L2139.5 1251.9 L2139.5 1264.4 L2139.8 1264.4 L2140.6 1264.4 L2140.6 1269.8 L2141.4 1269.8 L2142.8 1269.8 L2142.8 1273.6 L2144.1 1273.6 L2144.3 1273.6 L2144.3 1278.5 L2144.6 1278.5 L2145.9 1278.5 L2145.9 1280.1 L2147.3 1280.1 L2147.6 1280.1 L2147.6 1288.3 L2147.9 1288.3 L2148.7 1288.3 L2148.7 1292.1 L2149.5 1292.1 L2151.4 1292.1 L2151.4 1294.2 L2153.3 1294.2 L2153.9 1294.2 L2153.9 1299.1 L2154.4 1299.1 L2154.9 1299.1 L2154.9 1302.9 L2155.5 1302.9 L2156.8 1302.9 L2156.8 1305.6 L2158.2 1305.6 L2158.4 1305.6 L2158.4 1311.6 L2158.7 1311.6 L2160.6 1311.6 L2160.6 1313.8 L2162.5 1313.8 L2163.3 1313.8 L2163.3 1320.3 L2164.2 1320.3 L2165.8 1320.3 L2165.8 1323.5 L2167.4 1323.5 L2169.3 1323.5 L2169.3 1327.3 L2171.2 1327.3 L2171.5 1327.3 L2171.5 1341.4 L2171.8 1341.4 L2173.4 1341.4 L2173.4 1347.4 L2175 1347.4 L2175.3 1347.4 L2175.3 1371.3 L2175.6 1371.3 L2176.9 1371.3 L2176.9 1374 L2178.3 1374 L2178.3 1388.1 L2179.4 1388.1 L2179.4 1402.6 L2180.5 1402.6 L2180.7 1422.1 L2182.2 1422.1 L2182.2 1431.9 L2183.7 1431.9 L2184.8 1431.9 L2184.8 1440.6 L2185.9 1440.6 L2187.2 1440.6 L2187.2 1451.4 L2188.6 1451.4 L2189.1 1451.4 L2189.1 1467.7 L2189.7 1467.7 L2190 1467.7 L2190 1476.4 L2190.3 1476.4 L2192.7 1476.4 L2192.7 1482.9 L2195.1 1482.9 L2195.9 1482.9 L2195.9 1489.4 L2196.8 1489.4 L2198.2 1489.4 L2198.2 1494.8 L2199.5 1494.8 L2199.5 1497.4"/>
<path stroke="#008000" stroke-width="8.4" stroke-linejoin="miter" stroke-linecap="butt" d="M544.1 170.6h0.26v1.7h0.26v1.7h0.26v1.7h0.26v1.7h0.26v1.7M703.4 178.2h0.9v1.67h0.9v1.67h0.9v1.67M851.8 177.8h0.45v2h0.45v2M880.9 186.5h1.4v0.23h1.4v0.23h1.4v0.23M938.6 199.5h0.9v1.35h0.9v1.35M1003.7 199.5h1.85v1.35h1.85v1.35M1029.1 200.9h0.23v1.42h0.23v1.42h0.23v1.42h0.23v1.42M1040.8 206.6h0.9v1.5h0.9v1.5M1116 205.8h1.5v1.4h1.5v1.4h1.5v1.4h1.54v0.31h1.54v0.31h1.54v0.31h1.54v0.31h1.54v0.31h1.54v0.31h1.54v0.31h1.54v0.31h1.54v0.31h1.54v0.31M1235.4 208.5h1.5v0.32h1.5v0.32h1.5v0.32h1.5v0.32h1.5v0.32h1.5v0.32h1.65v0.41h1.65v0.41h1.65v0.41h1.65v0.41h1.65v0.41h1.65v0.41h1.65v0.41h1.65v0.41h1.65v0.41h1.65v0.41h1.65v0.41h1.59v0.45h1.59v0.45h1.59v0.45h1.59v0.45h1.59v0.45h1.59v0.45h1.59v0.45h1.59v0.45h1.65v0.33h1.65v0.33h1.65v0.33h1.65v0.33h1.65v0.33h1.65v0.33h1.65v0.33h1.65v0.33h1.65v0.33h1.65v0.33h1.65v0.33h1.65v0.15h1.65v0.15h1.65v0.15h1.65v0.15h1.65v0.15h1.65v0.15h1.65v0.15h1.65v0.15h1.65v0.15h1.65v0.15h1.65v0.15h1.5v0.55h1.5v0.55M1314.4 232.4h1.58v0.27h1.58v0.27h1.58v0.27h1.58v0.27h1.58v0.27h1.58v0.27h1.58v0.27h1.58v0.27h1.58v0.27h1.58v0.27h1.58v0.27h1.58v0.27M1347.6 236h1.58v0.6h1.58v0.6h1.58v0.6h1.58v0.6h1.58v0.6h1.58v0.6h1.58v0.6h1.58v0.6h1.57v0.17h1.57v0.17h1.57v0.17h1.57v0.17h1.57v0.17h1.57v0.17h1.57v0.17h1.57v0.17h1.57v0.17h1.57v0.17h1.57v0.17h1.57v0.17h1.57v0.17h1.57v0.17h1.57v0.17h1.63v0.04h1.63v0.04h1.63v0.04h1.63v0.04h1.63v0.04h1.63v0.04h1.63v0.04h1.63v0.04h1.63v0.04h1.63v0.04h1.63v0.04h1.63v0.04h1.63v0.04h1.63v0.04h1.63v0.04h1.63v0.04h1.63v0.04h1.63v0.04h1.63v0.04h1.63v0.04h1.8v1.25h1.8v1.25M1420 246.8h1.61v0.3h1.61v0.3h1.61v0.3h1.61v0.3h1.61v0.3h1.61v0.3h1.61v0.3h1.61v0.3h1.61v0.3h1.55v0.06h1.55v0.06h1.55v0.06h1.55v0.06h1.55v0.06h1.55v0.06h1.55v0.06h1.55v0.06h1.55v0.06h1.55v0.06h1.55v0.06h1.55v0.06h1.55v0.06h1.55v0.06h1.57v0.06h1.57v0.06h1.57v0.06h1.57v0.06h1.57v0.06h1.57v0.06h1.57v0.06h1.57v0.06h1.57v0.06h1.57v0.06h1.57v0.06h1.57v0.06h1.57v0.06h1.57v0.06h1.57v0.06h1.8v1.35h1.8v1.35h1.65v0.08h1.65v0.08h1.65v0.08h1.65v0.08h1.65v0.08h1.65v0.08h1.65v0.08h1.65v0.08h1.65v0.08h1.65v0.08h1.65v0.08h1.65v0.5h1.65v0.5h1.65v0.5h1.65v0.5h1.65v0.5h1.65v0.5h1.65v0.5h1.65v0.5h1.65v0.5h1.65v0.5h1.65v0.5h1.59v0.11h1.59v0.11h1.59v0.11h1.59v0.11h1.59v0.11h1.59v0.11h1.59v0.11h1.59v0.11h1.59v0.11h1.59v0.11h1.59v0.11h1.59v0.11h1.59v0.11h1.59v0.11h1.59v0.11h1.59v0.11h1.59v0.11h1.65v0.25h1.65v0.25h1.65v0.25h1.65v0.25h1.65v0.25h1.65v0.25h1.65v0.25h1.65v0.25h1.65v0.25h1.65v0.25h1.65v0.25h1.65v0.9h1.65v0.9h1.65v0.9h1.65v0.9h1.65v0.9h1.65v0.9h1.65v0.9h1.65v0.9h1.65v0.9h1.65v0.9h1.65v0.9h1.59v0.06h1.59v0.06h1.59v0.06h1.59v0.06h1.59v0.06h1.59v0.06h1.59v0.06h1.59v0.06h1.59v0.06h1.59v0.06h1.59v0.06h1.59v0.06h1.59v0.06h1.59v0.06h1.59v0.06h1.59v0.06h1.66v0.68h1.66v0.68h1.66v0.68h1.66v0.68h1.66v0.68h1.66v0.68h1.66v0.68h1.66v0.68h1.66v0.68h1.66v0.68h1.66v0.68h1.66v0.68h0.13v1.54h0.13v1.54h0.13v1.54h0.13v1.54h0.13v1.54h0.13v1.54h0.13v1.54h1.55v0.16h1.55v0.16h1.55v0.16h1.55v0.16h1.55v0.16h1.55v0.16h1.55v0.16h1.55v0.16h1.55v0.16h1.55v0.16h1.55v0.16h1.11v1.61h1.11v1.61h1.11v1.61h1.11v1.61h1.11v1.61h1.11v1.61h1.11v1.61h1.56v0.18h1.56v0.18h1.56v0.18h1.56v0.18h1.56v0.18h1.56v0.18h1.56v0.18h1.56v0.18h1.56v0.18h1.56v0.18h1.56v0.18h1.56v0.18h1.56v0.18h1.56v0.18h1.56v0.18h1.56v0.18h1.1v1.35h1.1v1.35M1689.7 313.7h0.66v1.46h0.66v1.46h0.66v1.46h0.66v1.46h0.66v1.46h1.57v0.3h1.57v0.3h1.57v0.3h1.69v0.26h1.69v0.26h1.69v0.26h1.69v0.26h1.69v0.26h1.69v0.26h1.69v0.26h1.6v1.2h1.6v1.2h1.6v1.2h1.6v1.2h1.6v1.2h1.6v1.2h1.6v1.2h1.6v1.2h1.6v1.2h1.55v0.13h1.55v0.13h1.55v0.13h1.55v0.13h1.55v0.13h1.55v0.13h1.55v0.13h1.55v0.13h1.55v0.13h1.55v0.13h1.55v0.13h1.55v0.13h1.55v0.13h1.55v0.13h0.24v1.59h0.24v1.59h0.24v1.59h0.24v1.59h0.24v1.59h0.24v1.59h0.24v1.59h0.24v1.59h1v1.61h1v1.61h1v1.61h1v1.61h1v1.61h1v1.61h1v1.61h1v1.61M1769.7 362.4h1.6v1.4h1.6v1.4h1.65v1.35h1.65v1.35h0.27v1.48h0.27v1.48h0.27v1.48h0.27v1.48h1.72v0.44h1.72v0.44h1.72v0.44h1.72v0.44h1.72v0.44h1.83v0.73h1.83v0.73h1.83v0.73h1.8v0.53h1.8v0.53h1.8v0.53h1.35v1.9h1.35v1.9M1800.1 387.4h1.62v0.4h1.62v0.4h1.62v0.4h1.62v0.4h1.6v1.4h1.6v1.4h0.15v1.47h0.15v1.47h0.15v1.47h0.15v1.47h1.52v0.66h1.52v0.66h1.52v0.66h1.52v0.66h1.52v0.66M1818.5 409.7h1.62v1.35h1.62v1.35h1.62v1.35h1.62v1.35h1.62v0.55h1.62v0.55h1.62v0.55h1.62v0.55h1.65v1.6h1.65v1.6h1.52v0.12h1.52v0.12h1.52v0.12h1.52v0.12h1.52v0.12M1852.2 420h1.6v0.8h1.6v0.8h0.22v1.74h0.22v1.74h0.22v1.74h0.22v1.74h0.22v1.74h0.53v1.37h0.53v1.37h0.53v1.37h1.53v0.93h1.53v0.93h1.53v0.93h1.35v1.65h1.35v1.65h1.35v1.65h1.35v1.65h0.22v1.52h0.22v1.52h0.22v1.52h0.22v1.52h0.22v1.52h1.77v1.62h1.77v1.62h1.77v1.62h1.77v1.62h0.54v1.52h0.54v1.52h0.54v1.52h0.54v1.52h0.54v1.52h0.54v1.52h0.54v1.52h0.54v1.52h0.54v1.52h0.54v1.52M1882.2 478.5h1.63v0.73h1.63v0.73h1.63v0.73h0.18v1.62h0.18v1.62h0.18v1.62h0.18v1.62h0.18v1.62h0.18v1.62h1.5v1.38h1.5v1.38h1.5v1.38h1.5v1.38h1.07v1.8h1.07v1.8h1.07v1.8M1897.4 508.9h1.63v1.07h1.63v1.07h1.63v1.07h0.37v1.47h0.37v1.47h0.37v1.47h1.63v1.07h1.63v1.07h1.63v1.07h0.68v1.62h0.68v1.62h0.68v1.62h0.68v1.62M1911.5 533.8h0.44v1.52h0.44v1.52h0.44v1.52h0.44v1.52h0.44v1.52h1.1v1.65h1.1v1.65h0.54v1.74h0.54v1.74h0.54v1.74h0.54v1.74h0.54v1.74h0.95v1.62h0.95v1.62h0.95v1.62h0.95v1.62h1.35v1.62h1.35v1.62h1.35v1.62h1.35v1.62h1.1v1.47h1.1v1.47h1.1v1.47h1.6v1.6h1.6v1.6h0.12v1.52h0.12v1.52h0.12v1.52h0.12v1.52h0.12v1.52h0.52v1.62h0.52v1.62h0.52v1.62h0.52v1.62h1.77v1.35h1.77v1.35h1.77v1.35h1.77v1.35M1944.4 603.8h1.35v1.35h1.35v1.35h1.74v0.22h1.74v0.22h1.74v0.22h1.74v0.22h1.74v0.22h1.35v1.05h1.35v1.05h0.44v1.64h0.44v1.64h0.44v1.64h0.44v1.64h0.44v1.64M1960.7 626.6h0.8v1.6h0.8v1.6M1962.8 639.6h0.06v1.68h0.06v1.68h0.06v1.68h0.06v1.68h0.06v1.68h0.06v1.68h0.06v1.68h0.06v1.68h0.06v1.68h0.06v1.68M1967.2 656.9h1.6v1.65h1.6v1.65h0.27v1.77h0.27v1.77h0.27v1.77h0.27v1.77h1.47v1.6h1.47v1.6h1.47v1.6M1976.4 683h1.64v0.44h1.64v0.44h1.64v0.44h1.64v0.44h1.64v0.44h1.8v0.33h1.8v0.33h1.8v0.33h1.35v1.9h1.35v1.9h1.8v0.57h1.8v0.57h1.8v0.57h0.57v1.43h0.57v1.43h0.57v1.43h1.35v1.65h1.35v1.65M2002.5 714.5h2.1v2.1M2004.6 720.4h1.5v0.83h1.5v0.83h1.5v0.83h1.5v0.83h1.63v1.27h1.63v1.27h1.63v1.27M2015.5 755.6h1.73v0.53h1.73v0.53h1.73v0.53h0.8v1.65h0.8v1.65h0.12v1.57h0.12v1.57h0.12v1.57h0.12v1.57h0.12v1.57h0.12v1.57h0.12v1.57h0.12v1.57h0.12v1.57h1.27v1.8h1.27v1.8h1.27v1.8h1.8v0.73h1.8v0.73h1.8v0.73h0.55v1.65h0.55v1.65h0.27v1.62h0.27v1.62h0.27v1.62h0.27v1.62h0.27v1.62h0.27v1.62h0.1v1.63h0.1v1.63h0.1v1.63h0.1v1.63h0.1v1.63h0.1v1.63h1.63v0.73h1.63v0.73h1.63v0.73h0.08v1.57h0.08v1.57h0.08v1.57h0.08v1.57h0.08v1.57h0.08v1.57h0.08v1.57h0.08v1.57h0.08v1.57h1.37v0.53h1.37v0.53h1.37v0.53h0.55v1.9h0.55v1.9h0.22v1.52h0.22v1.52h0.22v1.52h0.22v1.52h0.22v1.52h1.65v1.9h1.65v1.9M2051.6 847.3h0.8v1.65h0.8v1.65h0.04v1.63h0.04v1.63h0.04v1.63h0.04v1.63h0.04v1.63h0.04v1.63h0.04v1.63h0.04v1.63h0.04v1.63h0.04v1.63h0.04v1.63h0.04v1.63h0.04v1.63h0.04v1.63M2054.3 891.8h0.9v1.83h0.9v1.83h0.9v1.83h0.55v1.62h0.55v1.62h0.55v1.62h0.55v1.62M2059.2 914.4h2.1v1.8h0.3v1.57h0.3v1.57h0.3v1.57h0.3v1.57h0.3v1.57h0.3v1.57h0.3v1.57h0.3v1.57h0.3v1.57M2064.6 945.5h1.35v1.6h1.35v1.6M2067.3 952h1.62v0.54h1.62v0.54h1.62v0.54h1.62v0.54h1.62v0.54h0.73v1.63h0.73v1.63h0.73v1.63M2078.1 967.2h1.1v1.6h1.1v1.6M2080.3 982.4h1.43v1.8h1.43v1.8h1.43v1.8M2085.2 992.1h1.6v1.4h1.6v1.4M2088.4 1030.1h1.7v2.2M2090.6 1047.5h1.6v2.2h0.06v1.52h0.06v1.52h0.06v1.52h0.06v1.52h0.06v1.52h0.06v1.52h0.06v1.52h0.06v1.52h0.06v1.52h0.06v1.52h2.1v2.1M2095.5 1076.7h1.85v0.55h1.85v0.55h1.1v1.6h1.1v1.6h0.7v1.63h0.7v1.63h0.7v1.63M2103.5 1116.3h2.2v1.6M2105.7 1122.3h1.35v1.35h1.35v1.35M2108.4 1134.8h1.1v1.35h1.1v1.35M2110.6 1154.3h1.1v1.1M2111.7 1166.2h1.1v1.65h1.1v1.65h1.43v0.73h1.43v0.73h1.43v0.73M2118.7 1202.1h1.4v1.6h1.4v1.6h0.8v1.65h0.8v1.65M2123.6 1223.8h1.27v1.43h1.27v1.43h1.27v1.43h0.73v1.8h0.73v1.8h0.73v1.8h1.5v2.1M2131.6 1243.8h1.9v1.05h1.9v1.05h0.37v1.47h0.37v1.47h0.37v1.47h1.35v0.8h1.35v0.8h0.08v1.56h0.08v1.56h0.08v1.56h0.08v1.56h0.08v1.56h0.08v1.56h0.08v1.56h0.08v1.56h0.53v1.8h0.53v1.8h0.53v1.8h1.35v1.9h1.35v1.9M2144.6 1278.5h1.35v0.8h1.35v0.8M2147.9 1288.3h0.8v1.9h0.8v1.9h1.9v1.05h1.9v1.05h0.37v1.63h0.37v1.63h0.37v1.63h0.55v1.9h0.55v1.9h1.35v1.35h1.35v1.35M2158.7 1311.6h1.9v1.1h1.9v1.1h0.42v1.62h0.42v1.62h0.42v1.62h0.42v1.62h1.6v1.6h1.6v1.6h1.9v1.9h1.9v1.9h0.07v1.57h0.07v1.57h0.07v1.57h0.07v1.57h0.07v1.57h0.07v1.57h0.07v1.57h0.07v1.57h0.07v1.57h0.8v1.5h0.8v1.5h0.8v1.5h0.8v1.5M2175.6 1371.3h1.35v1.35h1.35v1.35M2178.3 1388.1h0.24v1.61h0.24v1.61h0.24v1.61h0.24v1.61h0.24v1.61h0.24v1.61h0.24v1.61h0.24v1.61h0.24v1.61M2180.7 1422.1h0.5v1.63h0.5v1.63h0.5v1.63h0.5v1.63h0.5v1.63h0.5v1.63h0.44v1.74h0.44v1.74h0.44v1.74h0.44v1.74h0.44v1.74h0.39v1.54h0.39v1.54h0.39v1.54h0.39v1.54h0.39v1.54h0.39v1.54h0.39v1.54h0.11v1.63h0.11v1.63h0.11v1.63h0.11v1.63h0.11v1.63h0.11v1.63h0.11v1.63h0.11v1.63h0.11v1.63h0.11v1.63h0.12v1.74h0.12v1.74h0.12v1.74h0.12v1.74h0.12v1.74h1.2v1.62h1.2v1.62h1.2v1.62h1.2v1.62h0.43v1.62h0.43v1.62h0.43v1.62h0.43v1.62h0.9v1.8h0.9v1.8h0.9v1.8"/>
</g>
<g stroke="#000" stroke-width="4.9" fill="none" shape-rendering="crispEdges">
<line x1="303.4" y1="1564.4" x2="303.4" y2="1583.0"/>
<line x1="689.8" y1="1564.4" x2="689.8" y2="1583.0"/>
<line x1="1076.2" y1="1564.4" x2="1076.2" y2="1583.0"/>
<line x1="1462.7" y1="1564.4" x2="1462.7" y2="1583.0"/>
<line x1="1849.1" y1="1564.4" x2="1849.1" y2="1583.0"/>
<line x1="2235.5" y1="1564.4" x2="2235.5" y2="1583.0"/>
<line x1="191.2" y1="1296.5" x2="210.6" y2="1296.5"/>
<line x1="191.2" y1="1012.5" x2="210.6" y2="1012.5"/>
<line x1="191.2" y1="728.5" x2="210.6" y2="728.5"/>
<line x1="191.2" y1="444.5" x2="210.6" y2="444.5"/>
<line x1="191.2" y1="160.5" x2="210.6" y2="160.5"/>
<rect x="210.6" y="94.1" width="2084.0" height="1470.3" stroke-linejoin="miter"/>
</g>
<rect x="234.0" y="1205.0" width="330.9" height="336.0" rx="9.5" ry="9.5" fill="#cccccc"/>
<rect x="239.8" y="1212.0" width="319.6" height="321.9" rx="4.5" ry="4.5" fill="#ffffff"/>
<g stroke-width="9.0" stroke-linecap="square" shape-rendering="crispEdges">
<line x1="258.2" y1="1251.5" x2="364.6" y2="1251.5" stroke="#ff0000"/>
<line x1="258.2" y1="1329.6" x2="364.6" y2="1329.6" stroke="#bfbf00"/>
<line x1="258.2" y1="1408.3" x2="364.6" y2="1408.3" stroke="#0000ff"/>
<line x1="258.2" y1="1486.4" x2="364.6" y2="1486.4" stroke="#008000"/>
</g>
<g filter="url(#bin)" stroke="#000" stroke-width="0.6" stroke-linejoin="round">
<g font-size="54.0">
<text x="303.4" y="1642.3" text-anchor="middle">0.0</text>
<text x="689.8" y="1642.3" text-anchor="middle">0.2</text>
<text x="1076.2" y="1642.3" text-anchor="middle">0.4</text>
<text x="1462.7" y="1642.3" text-anchor="middle">0.6</text>
<text x="1849.1" y="1642.3" text-anchor="middle">0.8</text>
<text x="2235.5" y="1642.3" text-anchor="middle">1.0</text>
<text x="173.0" y="1316.9" text-anchor="end">0.2</text>
<text x="173.0" y="1032.9" text-anchor="end">0.4</text>
<text x="173.0" y="748.9" text-anchor="end">0.6</text>
<text x="173.0" y="464.9" text-anchor="end">0.8</text>
<text x="173.0" y="180.9" text-anchor="end">1.0</text>
<text x="1252.6" y="1714.8" text-anchor="middle">recall</text>
<text transform="translate(56.7 829.2) rotate(-90)" text-anchor="middle">precision</text>
<text x="407.6" y="1270.0">Exp4</text>
<text x="407.6" y="1348.6">Exp3</text>
<text x="407.6" y="1427.0">Exp2</text>
<text x="407.6" y="1505.2">Exp1</text>
</g>
<text x="1252.6" y="62.0" text-anchor="middle" font-size="64.8">AP</text>
</g>
</svg></body></html>
